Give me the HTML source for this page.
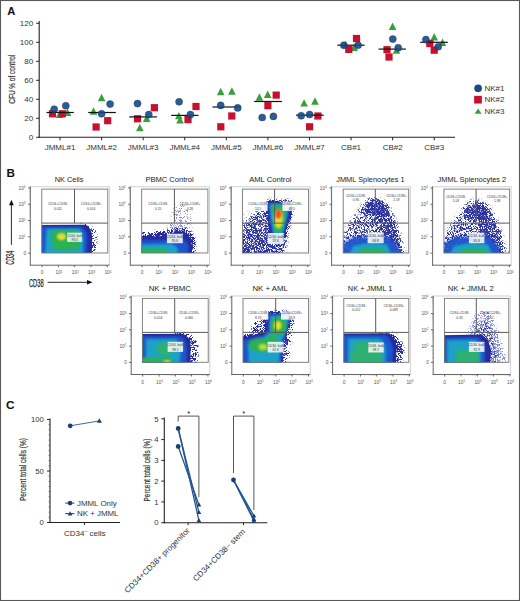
<!DOCTYPE html>
<html><head><meta charset="utf-8"><style>
html,body{margin:0;padding:0;background:#fff;}
body{width:520px;height:601px;overflow:hidden;}
svg{display:block;}
text{font-family:"Liberation Sans", sans-serif;}
</style></head><body>
<svg width="520" height="601" viewBox="0 0 520 601">
<defs>
<filter id="b05" x="-20%" y="-20%" width="140%" height="140%"><feGaussianBlur stdDeviation="0.5"/></filter>
<filter id="b1" x="-20%" y="-20%" width="140%" height="140%"><feGaussianBlur stdDeviation="1"/></filter>
<filter id="b15" x="-30%" y="-30%" width="160%" height="160%"><feGaussianBlur stdDeviation="1.5"/></filter>
<filter id="b2" x="-40%" y="-40%" width="180%" height="180%"><feGaussianBlur stdDeviation="2"/></filter>
<filter id="dA" x="-20%" y="-20%" width="140%" height="140%" color-interpolation-filters="sRGB"><feGaussianBlur in="SourceAlpha" stdDeviation="1.5" result="d"/><feTurbulence type="fractalNoise" baseFrequency="1.9" numOctaves="2" seed="5" result="n"/><feColorMatrix in="n" type="matrix" values="0 0 0 0 0  0 0 0 0 0  0 0 0 0 0  3.5 0 0 0 -1.25" result="na"/><feComposite in="d" in2="na" operator="arithmetic" k1="0" k2="1.3" k3="-1" k4="0" result="diff"/><feComponentTransfer in="diff" result="amp"><feFuncA type="linear" slope="5" intercept="0"/></feComponentTransfer><feFlood flood-color="#272c9c"/><feComposite in2="amp" operator="in"/></filter>
<filter id="dB" x="-20%" y="-20%" width="140%" height="140%" color-interpolation-filters="sRGB"><feGaussianBlur in="SourceAlpha" stdDeviation="2.5" result="d"/><feTurbulence type="fractalNoise" baseFrequency="1.3" numOctaves="2" seed="9" result="n"/><feColorMatrix in="n" type="matrix" values="0 0 0 0 0  0 0 0 0 0  0 0 0 0 0  3.5 0 0 0 -1.25" result="na"/><feComposite in="d" in2="na" operator="arithmetic" k1="0" k2="1.3" k3="-1" k4="0" result="diff"/><feComponentTransfer in="diff" result="amp"><feFuncA type="linear" slope="5" intercept="0"/></feComponentTransfer><feFlood flood-color="#272c9c"/><feComposite in2="amp" operator="in"/></filter>
<filter id="dC" x="-20%" y="-20%" width="140%" height="140%" color-interpolation-filters="sRGB"><feGaussianBlur in="SourceAlpha" stdDeviation="2.2" result="d"/><feTurbulence type="fractalNoise" baseFrequency="2.3" numOctaves="2" seed="11" result="n"/><feColorMatrix in="n" type="matrix" values="0 0 0 0 0  0 0 0 0 0  0 0 0 0 0  3.5 0 0 0 -1.25" result="na"/><feComposite in="d" in2="na" operator="arithmetic" k1="0" k2="1.3" k3="-1" k4="0" result="diff"/><feComponentTransfer in="diff" result="amp0"><feFuncA type="linear" slope="2.4" intercept="0"/></feComponentTransfer><feGaussianBlur in="amp0" stdDeviation="0.5" result="amp"/><feFlood flood-color="#2c34a2"/><feComposite in2="amp" operator="in"/></filter>
<filter id="dL" x="-20%" y="-20%" width="140%" height="140%" color-interpolation-filters="sRGB"><feGaussianBlur in="SourceAlpha" stdDeviation="2.2" result="d"/><feTurbulence type="fractalNoise" baseFrequency="2.3" numOctaves="2" seed="13" result="n"/><feColorMatrix in="n" type="matrix" values="0 0 0 0 0  0 0 0 0 0  0 0 0 0 0  3.5 0 0 0 -1.25" result="na"/><feComposite in="d" in2="na" operator="arithmetic" k1="0" k2="1.3" k3="-1" k4="0" result="diff"/><feComponentTransfer in="diff" result="amp"><feFuncA type="linear" slope="4" intercept="0"/></feComponentTransfer><feFlood flood-color="#8a93d6"/><feComposite in2="amp" operator="in"/></filter>
</defs>
<rect x="0" y="0" width="520" height="601" fill="#fff"/>
<text x="7.20" y="15.00" font-size="11.2" text-anchor="start" fill="#111" font-weight="bold" >A</text>
<line x1="39.20" y1="21.00" x2="39.20" y2="137.80" stroke="#222" stroke-width="1.1"/>
<line x1="38.70" y1="137.30" x2="455.00" y2="137.30" stroke="#222" stroke-width="1.1"/>
<line x1="36.20" y1="137.30" x2="39.20" y2="137.30" stroke="#222" stroke-width="1"/>
<text x="33.20" y="140.15" font-size="8.0" text-anchor="end" fill="#333" font-weight="normal" >0</text>
<line x1="36.20" y1="118.30" x2="39.20" y2="118.30" stroke="#222" stroke-width="1"/>
<text x="33.20" y="121.15" font-size="8.0" text-anchor="end" fill="#333" font-weight="normal" >20</text>
<line x1="36.20" y1="99.30" x2="39.20" y2="99.30" stroke="#222" stroke-width="1"/>
<text x="33.20" y="102.15" font-size="8.0" text-anchor="end" fill="#333" font-weight="normal" >40</text>
<line x1="36.20" y1="80.30" x2="39.20" y2="80.30" stroke="#222" stroke-width="1"/>
<text x="33.20" y="83.15" font-size="8.0" text-anchor="end" fill="#333" font-weight="normal" >60</text>
<line x1="36.20" y1="61.30" x2="39.20" y2="61.30" stroke="#222" stroke-width="1"/>
<text x="33.20" y="64.15" font-size="8.0" text-anchor="end" fill="#333" font-weight="normal" >80</text>
<line x1="36.20" y1="42.30" x2="39.20" y2="42.30" stroke="#222" stroke-width="1"/>
<text x="33.20" y="45.15" font-size="8.0" text-anchor="end" fill="#333" font-weight="normal" >100</text>
<line x1="36.20" y1="23.30" x2="39.20" y2="23.30" stroke="#222" stroke-width="1"/>
<text x="33.20" y="26.15" font-size="8.0" text-anchor="end" fill="#333" font-weight="normal" >120</text>
<line x1="60.00" y1="137.30" x2="60.00" y2="140.30" stroke="#222" stroke-width="1"/>
<text x="60.00" y="150.30" font-size="8.0" text-anchor="middle" fill="#333" font-weight="normal" >JMML#1</text>
<line x1="101.58" y1="137.30" x2="101.58" y2="140.30" stroke="#222" stroke-width="1"/>
<text x="101.58" y="150.30" font-size="8.0" text-anchor="middle" fill="#333" font-weight="normal" >JMML#2</text>
<line x1="143.16" y1="137.30" x2="143.16" y2="140.30" stroke="#222" stroke-width="1"/>
<text x="143.16" y="150.30" font-size="8.0" text-anchor="middle" fill="#333" font-weight="normal" >JMML#3</text>
<line x1="184.74" y1="137.30" x2="184.74" y2="140.30" stroke="#222" stroke-width="1"/>
<text x="184.74" y="150.30" font-size="8.0" text-anchor="middle" fill="#333" font-weight="normal" >JMML#4</text>
<line x1="226.32" y1="137.30" x2="226.32" y2="140.30" stroke="#222" stroke-width="1"/>
<text x="226.32" y="150.30" font-size="8.0" text-anchor="middle" fill="#333" font-weight="normal" >JMML#5</text>
<line x1="267.90" y1="137.30" x2="267.90" y2="140.30" stroke="#222" stroke-width="1"/>
<text x="267.90" y="150.30" font-size="8.0" text-anchor="middle" fill="#333" font-weight="normal" >JMML#6</text>
<line x1="309.48" y1="137.30" x2="309.48" y2="140.30" stroke="#222" stroke-width="1"/>
<text x="309.48" y="150.30" font-size="8.0" text-anchor="middle" fill="#333" font-weight="normal" >JMML#7</text>
<line x1="351.06" y1="137.30" x2="351.06" y2="140.30" stroke="#222" stroke-width="1"/>
<text x="351.06" y="150.30" font-size="8.0" text-anchor="middle" fill="#333" font-weight="normal" >CB#1</text>
<line x1="392.64" y1="137.30" x2="392.64" y2="140.30" stroke="#222" stroke-width="1"/>
<text x="392.64" y="150.30" font-size="8.0" text-anchor="middle" fill="#333" font-weight="normal" >CB#2</text>
<line x1="434.22" y1="137.30" x2="434.22" y2="140.30" stroke="#222" stroke-width="1"/>
<text x="434.22" y="150.30" font-size="8.0" text-anchor="middle" fill="#333" font-weight="normal" >CB#3</text>
<text transform="translate(14.9,79.2) rotate(-90)" font-size="9" text-anchor="middle" fill="#333" stroke="#333" stroke-width="0.2" textLength="49" lengthAdjust="spacingAndGlyphs">CFU % of control</text>
<polygon points="59.50,110.50 55.70,117.90 63.30,117.90" fill="#38a03b"/>
<polygon points="67.50,108.50 63.70,115.90 71.30,115.90" fill="#38a03b"/>
<rect x="48.90" y="110.20" width="7.2" height="7.2" fill="#c8102e"/>
<rect x="58.70" y="110.20" width="7.2" height="7.2" fill="#c8102e"/>
<line x1="46.50" y1="112.50" x2="73.80" y2="112.50" stroke="#111" stroke-width="1.2"/>
<circle cx="54.20" cy="109.20" r="3.55" fill="#174a84" fill-opacity="0.9" stroke="#0f3563" stroke-width="0.4"/>
<circle cx="65.80" cy="105.80" r="3.55" fill="#174a84" fill-opacity="0.9" stroke="#0f3563" stroke-width="0.4"/>
<polygon points="101.60,93.80 97.80,101.20 105.40,101.20" fill="#38a03b"/>
<polygon points="93.50,107.30 89.70,114.70 97.30,114.70" fill="#38a03b"/>
<rect x="104.10" y="117.10" width="7.2" height="7.2" fill="#c8102e"/>
<rect x="92.50" y="123.40" width="7.2" height="7.2" fill="#c8102e"/>
<line x1="88.20" y1="112.50" x2="115.80" y2="112.50" stroke="#111" stroke-width="1.2"/>
<circle cx="110.10" cy="104.10" r="3.55" fill="#174a84" fill-opacity="0.9" stroke="#0f3563" stroke-width="0.4"/>
<circle cx="101.60" cy="113.80" r="3.55" fill="#174a84" fill-opacity="0.9" stroke="#0f3563" stroke-width="0.4"/>
<polygon points="146.70,114.50 142.90,121.90 150.50,121.90" fill="#38a03b"/>
<polygon points="139.80,123.80 136.00,131.20 143.60,131.20" fill="#38a03b"/>
<rect x="150.80" y="104.10" width="7.2" height="7.2" fill="#c8102e"/>
<rect x="133.90" y="115.20" width="7.2" height="7.2" fill="#c8102e"/>
<line x1="129.20" y1="116.90" x2="156.90" y2="116.90" stroke="#111" stroke-width="1.2"/>
<circle cx="137.50" cy="103.60" r="3.55" fill="#174a84" fill-opacity="0.9" stroke="#0f3563" stroke-width="0.4"/>
<circle cx="148.80" cy="114.60" r="3.55" fill="#174a84" fill-opacity="0.9" stroke="#0f3563" stroke-width="0.4"/>
<polygon points="178.80,111.90 175.00,119.30 182.60,119.30" fill="#38a03b"/>
<polygon points="180.00,116.20 176.20,123.60 183.80,123.60" fill="#38a03b"/>
<rect x="192.40" y="102.90" width="7.2" height="7.2" fill="#c8102e"/>
<rect x="184.40" y="116.00" width="7.2" height="7.2" fill="#c8102e"/>
<line x1="171.20" y1="115.40" x2="198.50" y2="115.40" stroke="#111" stroke-width="1.2"/>
<circle cx="179.10" cy="101.80" r="3.55" fill="#174a84" fill-opacity="0.9" stroke="#0f3563" stroke-width="0.4"/>
<circle cx="190.40" cy="114.60" r="3.55" fill="#174a84" fill-opacity="0.9" stroke="#0f3563" stroke-width="0.4"/>
<polygon points="220.70,87.80 216.90,95.20 224.50,95.20" fill="#38a03b"/>
<polygon points="231.90,87.30 228.10,94.70 235.70,94.70" fill="#38a03b"/>
<rect x="228.20" y="112.40" width="7.2" height="7.2" fill="#c8102e"/>
<rect x="217.20" y="123.20" width="7.2" height="7.2" fill="#c8102e"/>
<line x1="212.50" y1="107.00" x2="240.90" y2="107.00" stroke="#111" stroke-width="1.2"/>
<circle cx="220.70" cy="105.40" r="3.55" fill="#174a84" fill-opacity="0.9" stroke="#0f3563" stroke-width="0.4"/>
<circle cx="237.70" cy="107.90" r="3.55" fill="#174a84" fill-opacity="0.9" stroke="#0f3563" stroke-width="0.4"/>
<polygon points="259.40,93.30 255.60,100.70 263.20,100.70" fill="#38a03b"/>
<polygon points="267.70,90.50 263.90,97.90 271.50,97.90" fill="#38a03b"/>
<rect x="272.60" y="91.50" width="7.2" height="7.2" fill="#c8102e"/>
<rect x="264.30" y="102.10" width="7.2" height="7.2" fill="#c8102e"/>
<line x1="254.00" y1="101.50" x2="281.90" y2="101.50" stroke="#111" stroke-width="1.2"/>
<circle cx="262.20" cy="117.50" r="3.55" fill="#174a84" fill-opacity="0.9" stroke="#0f3563" stroke-width="0.4"/>
<circle cx="273.40" cy="116.40" r="3.55" fill="#174a84" fill-opacity="0.9" stroke="#0f3563" stroke-width="0.4"/>
<polygon points="304.10,99.20 300.30,106.60 307.90,106.60" fill="#38a03b"/>
<polygon points="315.00,97.30 311.20,104.70 318.80,104.70" fill="#38a03b"/>
<rect x="314.30" y="112.40" width="7.2" height="7.2" fill="#c8102e"/>
<rect x="306.00" y="123.20" width="7.2" height="7.2" fill="#c8102e"/>
<line x1="296.00" y1="115.20" x2="323.70" y2="115.20" stroke="#111" stroke-width="1.2"/>
<circle cx="301.20" cy="115.80" r="3.55" fill="#174a84" fill-opacity="0.9" stroke="#0f3563" stroke-width="0.4"/>
<circle cx="309.60" cy="114.50" r="3.55" fill="#174a84" fill-opacity="0.9" stroke="#0f3563" stroke-width="0.4"/>
<polygon points="345.40,40.80 341.60,48.20 349.20,48.20" fill="#38a03b"/>
<polygon points="354.20,43.50 350.40,50.90 358.00,50.90" fill="#38a03b"/>
<rect x="352.90" y="34.90" width="7.2" height="7.2" fill="#c8102e"/>
<rect x="345.20" y="45.80" width="7.2" height="7.2" fill="#c8102e"/>
<line x1="337.30" y1="45.20" x2="364.60" y2="45.20" stroke="#111" stroke-width="1.2"/>
<circle cx="343.80" cy="45.20" r="3.55" fill="#174a84" fill-opacity="0.9" stroke="#0f3563" stroke-width="0.4"/>
<circle cx="358.10" cy="45.20" r="3.55" fill="#174a84" fill-opacity="0.9" stroke="#0f3563" stroke-width="0.4"/>
<polygon points="392.60,22.50 388.80,29.90 396.40,29.90" fill="#38a03b"/>
<polygon points="396.50,46.40 392.70,53.80 400.30,53.80" fill="#38a03b"/>
<rect x="383.40" y="46.10" width="7.2" height="7.2" fill="#c8102e"/>
<rect x="385.40" y="53.40" width="7.2" height="7.2" fill="#c8102e"/>
<line x1="378.50" y1="49.10" x2="405.90" y2="49.10" stroke="#111" stroke-width="1.2"/>
<circle cx="392.80" cy="39.10" r="3.55" fill="#174a84" fill-opacity="0.9" stroke="#0f3563" stroke-width="0.4"/>
<circle cx="398.20" cy="47.80" r="3.55" fill="#174a84" fill-opacity="0.9" stroke="#0f3563" stroke-width="0.4"/>
<polygon points="434.20,33.10 430.40,40.50 438.00,40.50" fill="#38a03b"/>
<polygon points="442.50,38.50 438.70,45.90 446.30,45.90" fill="#38a03b"/>
<rect x="426.20" y="39.90" width="7.2" height="7.2" fill="#c8102e"/>
<rect x="430.60" y="46.60" width="7.2" height="7.2" fill="#c8102e"/>
<line x1="420.20" y1="42.30" x2="447.80" y2="42.30" stroke="#111" stroke-width="1.2"/>
<circle cx="425.90" cy="39.60" r="3.55" fill="#174a84" fill-opacity="0.9" stroke="#0f3563" stroke-width="0.4"/>
<circle cx="438.20" cy="46.70" r="3.55" fill="#174a84" fill-opacity="0.9" stroke="#0f3563" stroke-width="0.4"/>
<circle cx="478.10" cy="88.30" r="3.85" fill="#174a84"/>
<text x="484.40" y="91.00" font-size="8.0" text-anchor="start" fill="#333" font-weight="normal" >NK#1</text>
<rect x="474.15" y="95.85" width="7.7" height="7.7" fill="#c8102e"/>
<text x="484.40" y="102.40" font-size="8.0" text-anchor="start" fill="#333" font-weight="normal" >NK#2</text>
<polygon points="478.10,108.50 474.60,113.80 481.60,113.80" fill="#38a03b"/>
<text x="484.40" y="113.60" font-size="8.0" text-anchor="start" fill="#333" font-weight="normal" >NK#3</text>
<text x="6.50" y="177.00" font-size="11.7" text-anchor="start" fill="#111" font-weight="bold" >B</text>
<text x="69.05" y="181.60" font-size="7.8" text-anchor="middle" fill="#222" textLength="28.80" lengthAdjust="spacingAndGlyphs">NK Cells</text>
<g><clipPath id="cp0"><rect x="41.8" y="186.7" width="67.60" height="66.40"/></clipPath><g clip-path="url(#cp0)"><g filter="url(#dA)"><path d="M76,224.5 L89,224.5 Q95,228 96,236 Q96.5,246 94.5,257 L85,257 Z" fill="#000" fill-opacity="0.42"/></g><path d="M38,224.9 L86,224.7 Q90.5,227 91.8,234 Q92.6,242 91.5,257 L38,257 Z" fill="#272c9c" filter="url(#b05)"/><path d="M38,226.8 L81,226.8 Q86,229 87,236 L86.5,257 L38,257 Z" fill="#1f56cf" filter="url(#b1)"/><path d="M46.5,228.8 L79,228.8 Q83.5,232 83.5,240 L83,257 L45,257 Z" fill="#1aa2c9" filter="url(#b1)"/><path d="M51.5,230.5 L77,230.2 Q81,235 80.5,242 L78,250 L54,250.5 Q50,240 51.5,230.5 Z" fill="#2bb153" filter="url(#b15)"/><ellipse cx="61.5" cy="236.6" rx="4.6" ry="3.6" fill="#e2dd2e" filter="url(#b1)"/></g><rect x="67.1" y="232.7" width="15.00" height="9.20" fill="#eaf6f0" fill-opacity="0.88"/></g>
<line x1="30.30" y1="186.70" x2="109.40" y2="186.70" stroke="#bdbdbd" stroke-width="0.7"/>
<line x1="109.40" y1="186.70" x2="109.40" y2="265.20" stroke="#bdbdbd" stroke-width="0.7"/>
<line x1="30.30" y1="186.40" x2="30.30" y2="265.60" stroke="#555" stroke-width="0.9"/>
<line x1="29.90" y1="265.20" x2="109.40" y2="265.20" stroke="#555" stroke-width="0.9"/>
<rect x="41.80" y="189.10" width="66.00" height="63.90" fill="none" stroke="#747474" stroke-width="0.9"/>
<line x1="41.80" y1="223.10" x2="107.80" y2="223.10" stroke="#5a5a5a" stroke-width="1.0"/>
<line x1="74.50" y1="189.10" x2="74.50" y2="223.10" stroke="#5a5a5a" stroke-width="1.0"/>
<line x1="28.10" y1="253.10" x2="30.30" y2="253.10" stroke="#555" stroke-width="0.9"/>
<line x1="28.10" y1="236.80" x2="30.30" y2="236.80" stroke="#555" stroke-width="0.9"/>
<line x1="28.10" y1="220.50" x2="30.30" y2="220.50" stroke="#555" stroke-width="0.9"/>
<line x1="28.10" y1="204.20" x2="30.30" y2="204.20" stroke="#555" stroke-width="0.9"/>
<line x1="28.10" y1="187.90" x2="30.30" y2="187.90" stroke="#555" stroke-width="0.9"/>
<line x1="29.20" y1="231.89" x2="30.30" y2="231.89" stroke="#8a8a8a" stroke-width="0.45"/>
<line x1="29.20" y1="229.02" x2="30.30" y2="229.02" stroke="#8a8a8a" stroke-width="0.45"/>
<line x1="29.20" y1="226.99" x2="30.30" y2="226.99" stroke="#8a8a8a" stroke-width="0.45"/>
<line x1="29.20" y1="225.41" x2="30.30" y2="225.41" stroke="#8a8a8a" stroke-width="0.45"/>
<line x1="29.20" y1="224.12" x2="30.30" y2="224.12" stroke="#8a8a8a" stroke-width="0.45"/>
<line x1="29.20" y1="223.02" x2="30.30" y2="223.02" stroke="#8a8a8a" stroke-width="0.45"/>
<line x1="29.20" y1="222.08" x2="30.30" y2="222.08" stroke="#8a8a8a" stroke-width="0.45"/>
<line x1="29.20" y1="221.25" x2="30.30" y2="221.25" stroke="#8a8a8a" stroke-width="0.45"/>
<line x1="29.20" y1="215.59" x2="30.30" y2="215.59" stroke="#8a8a8a" stroke-width="0.45"/>
<line x1="29.20" y1="212.72" x2="30.30" y2="212.72" stroke="#8a8a8a" stroke-width="0.45"/>
<line x1="29.20" y1="210.69" x2="30.30" y2="210.69" stroke="#8a8a8a" stroke-width="0.45"/>
<line x1="29.20" y1="209.11" x2="30.30" y2="209.11" stroke="#8a8a8a" stroke-width="0.45"/>
<line x1="29.20" y1="207.82" x2="30.30" y2="207.82" stroke="#8a8a8a" stroke-width="0.45"/>
<line x1="29.20" y1="206.72" x2="30.30" y2="206.72" stroke="#8a8a8a" stroke-width="0.45"/>
<line x1="29.20" y1="205.78" x2="30.30" y2="205.78" stroke="#8a8a8a" stroke-width="0.45"/>
<line x1="29.20" y1="204.95" x2="30.30" y2="204.95" stroke="#8a8a8a" stroke-width="0.45"/>
<line x1="29.20" y1="199.29" x2="30.30" y2="199.29" stroke="#8a8a8a" stroke-width="0.45"/>
<line x1="29.20" y1="196.42" x2="30.30" y2="196.42" stroke="#8a8a8a" stroke-width="0.45"/>
<line x1="29.20" y1="194.39" x2="30.30" y2="194.39" stroke="#8a8a8a" stroke-width="0.45"/>
<line x1="29.20" y1="192.81" x2="30.30" y2="192.81" stroke="#8a8a8a" stroke-width="0.45"/>
<line x1="29.20" y1="191.52" x2="30.30" y2="191.52" stroke="#8a8a8a" stroke-width="0.45"/>
<line x1="29.20" y1="190.42" x2="30.30" y2="190.42" stroke="#8a8a8a" stroke-width="0.45"/>
<line x1="29.20" y1="189.48" x2="30.30" y2="189.48" stroke="#8a8a8a" stroke-width="0.45"/>
<line x1="29.20" y1="188.65" x2="30.30" y2="188.65" stroke="#8a8a8a" stroke-width="0.45"/>
<line x1="29.20" y1="248.21" x2="30.30" y2="248.21" stroke="#8a8a8a" stroke-width="0.45"/>
<line x1="29.20" y1="244.13" x2="30.30" y2="244.13" stroke="#8a8a8a" stroke-width="0.45"/>
<line x1="29.20" y1="240.88" x2="30.30" y2="240.88" stroke="#8a8a8a" stroke-width="0.45"/>
<text x="26.10" y="254.80" font-size="4.8" text-anchor="end" fill="#555" font-weight="normal" >0</text>
<text x="25.50" y="238.60" font-size="4.8" text-anchor="end" fill="#555" font-weight="normal" >10<tspan font-size="3.0" dy="-1.7">1</tspan></text>
<text x="25.50" y="222.30" font-size="4.8" text-anchor="end" fill="#555" font-weight="normal" >10<tspan font-size="3.0" dy="-1.7">2</tspan></text>
<text x="25.50" y="206.00" font-size="4.8" text-anchor="end" fill="#555" font-weight="normal" >10<tspan font-size="3.0" dy="-1.7">3</tspan></text>
<text x="25.50" y="189.70" font-size="4.8" text-anchor="end" fill="#555" font-weight="normal" >10<tspan font-size="3.0" dy="-1.7">4</tspan></text>
<line x1="42.10" y1="265.20" x2="42.10" y2="267.20" stroke="#555" stroke-width="0.9"/>
<line x1="58.40" y1="265.20" x2="58.40" y2="267.20" stroke="#555" stroke-width="0.9"/>
<line x1="74.70" y1="265.20" x2="74.70" y2="267.20" stroke="#555" stroke-width="0.9"/>
<line x1="91.00" y1="265.20" x2="91.00" y2="267.20" stroke="#555" stroke-width="0.9"/>
<line x1="107.30" y1="265.20" x2="107.30" y2="267.20" stroke="#555" stroke-width="0.9"/>
<line x1="63.31" y1="265.20" x2="63.31" y2="266.30" stroke="#8a8a8a" stroke-width="0.45"/>
<line x1="66.18" y1="265.20" x2="66.18" y2="266.30" stroke="#8a8a8a" stroke-width="0.45"/>
<line x1="68.21" y1="265.20" x2="68.21" y2="266.30" stroke="#8a8a8a" stroke-width="0.45"/>
<line x1="69.79" y1="265.20" x2="69.79" y2="266.30" stroke="#8a8a8a" stroke-width="0.45"/>
<line x1="71.08" y1="265.20" x2="71.08" y2="266.30" stroke="#8a8a8a" stroke-width="0.45"/>
<line x1="72.18" y1="265.20" x2="72.18" y2="266.30" stroke="#8a8a8a" stroke-width="0.45"/>
<line x1="73.12" y1="265.20" x2="73.12" y2="266.30" stroke="#8a8a8a" stroke-width="0.45"/>
<line x1="73.95" y1="265.20" x2="73.95" y2="266.30" stroke="#8a8a8a" stroke-width="0.45"/>
<line x1="79.61" y1="265.20" x2="79.61" y2="266.30" stroke="#8a8a8a" stroke-width="0.45"/>
<line x1="82.48" y1="265.20" x2="82.48" y2="266.30" stroke="#8a8a8a" stroke-width="0.45"/>
<line x1="84.51" y1="265.20" x2="84.51" y2="266.30" stroke="#8a8a8a" stroke-width="0.45"/>
<line x1="86.09" y1="265.20" x2="86.09" y2="266.30" stroke="#8a8a8a" stroke-width="0.45"/>
<line x1="87.38" y1="265.20" x2="87.38" y2="266.30" stroke="#8a8a8a" stroke-width="0.45"/>
<line x1="88.48" y1="265.20" x2="88.48" y2="266.30" stroke="#8a8a8a" stroke-width="0.45"/>
<line x1="89.42" y1="265.20" x2="89.42" y2="266.30" stroke="#8a8a8a" stroke-width="0.45"/>
<line x1="90.25" y1="265.20" x2="90.25" y2="266.30" stroke="#8a8a8a" stroke-width="0.45"/>
<line x1="95.91" y1="265.20" x2="95.91" y2="266.30" stroke="#8a8a8a" stroke-width="0.45"/>
<line x1="98.78" y1="265.20" x2="98.78" y2="266.30" stroke="#8a8a8a" stroke-width="0.45"/>
<line x1="100.81" y1="265.20" x2="100.81" y2="266.30" stroke="#8a8a8a" stroke-width="0.45"/>
<line x1="102.39" y1="265.20" x2="102.39" y2="266.30" stroke="#8a8a8a" stroke-width="0.45"/>
<line x1="103.68" y1="265.20" x2="103.68" y2="266.30" stroke="#8a8a8a" stroke-width="0.45"/>
<line x1="104.78" y1="265.20" x2="104.78" y2="266.30" stroke="#8a8a8a" stroke-width="0.45"/>
<line x1="105.72" y1="265.20" x2="105.72" y2="266.30" stroke="#8a8a8a" stroke-width="0.45"/>
<line x1="106.55" y1="265.20" x2="106.55" y2="266.30" stroke="#8a8a8a" stroke-width="0.45"/>
<line x1="46.99" y1="265.20" x2="46.99" y2="266.30" stroke="#8a8a8a" stroke-width="0.45"/>
<line x1="51.06" y1="265.20" x2="51.06" y2="266.30" stroke="#8a8a8a" stroke-width="0.45"/>
<line x1="54.32" y1="265.20" x2="54.32" y2="266.30" stroke="#8a8a8a" stroke-width="0.45"/>
<text x="42.10" y="274.20" font-size="4.8" text-anchor="middle" fill="#555" font-weight="normal" >0</text>
<text x="59.00" y="274.20" font-size="4.8" text-anchor="middle" fill="#555" font-weight="normal" >10<tspan font-size="3.0" dy="-1.7">1</tspan></text>
<text x="75.30" y="274.20" font-size="4.8" text-anchor="middle" fill="#555" font-weight="normal" >10<tspan font-size="3.0" dy="-1.7">2</tspan></text>
<text x="91.60" y="274.20" font-size="4.8" text-anchor="middle" fill="#555" font-weight="normal" >10<tspan font-size="3.0" dy="-1.7">3</tspan></text>
<text x="107.90" y="274.20" font-size="4.8" text-anchor="middle" fill="#555" font-weight="normal" >10<tspan font-size="3.0" dy="-1.7">4</tspan></text>
<text x="57.90" y="205.00" font-size="3.3" text-anchor="middle" fill="#3a3a3a" font-weight="normal" >CD34+CD38-</text>
<text x="57.90" y="209.50" font-size="3.3" text-anchor="middle" fill="#3a3a3a" font-weight="normal" >0.011</text>
<text x="91.20" y="205.00" font-size="3.3" text-anchor="middle" fill="#3a3a3a" font-weight="normal" >CD34+CD38+</text>
<text x="91.20" y="209.50" font-size="3.3" text-anchor="middle" fill="#3a3a3a" font-weight="normal" >0.014</text>
<text x="74.60" y="236.70" font-size="3.3" text-anchor="middle" fill="#3a3a3a" font-weight="normal" >CD34- bulk</text>
<text x="74.60" y="241.20" font-size="3.3" text-anchor="middle" fill="#3a3a3a" font-weight="normal" >93.5</text>
<text x="169.60" y="181.60" font-size="7.8" text-anchor="middle" fill="#222" textLength="48.30" lengthAdjust="spacingAndGlyphs">PBMC Control</text>
<g><clipPath id="cp1"><rect x="141.7" y="186.7" width="67.80" height="66.40"/></clipPath><g clip-path="url(#cp1)"><g filter="url(#dL)"><path d="M166,236 L170,222 L175,207 L183,203 L190,211 L190,226 L193,236 Z" fill="#000" fill-opacity="0.3"/></g><g filter="url(#dA)"><path d="M138,236.5 L160,235.5 L176,232 L186,233 L191,238 L192.5,246 L192,257 L138,257 Z" fill="#000"/><path d="M138,233.5 L165,231 L178,228 L188,229 L194,237 L195,257 L138,257 Z" fill="#000" fill-opacity="0.55"/></g><path d="M138,240.5 L184,240 L188.5,245 L188,257 L138,257 Z" fill="#1f56cf" filter="url(#b1)"/><path d="M138,244.5 L172,244 L178,248 L177,257 L138,257 Z" fill="#1aa2c9" filter="url(#b1)"/><path d="M138,248.5 L166,248.5 L169,257 L138,257 Z" fill="#2bb153" filter="url(#b1)"/></g><rect x="166.9" y="233.8" width="15.90" height="9.40" fill="#f2f8fb" fill-opacity="0.9"/></g>
<line x1="130.30" y1="186.70" x2="209.50" y2="186.70" stroke="#bdbdbd" stroke-width="0.7"/>
<line x1="209.50" y1="186.70" x2="209.50" y2="265.20" stroke="#bdbdbd" stroke-width="0.7"/>
<line x1="130.30" y1="186.40" x2="130.30" y2="265.60" stroke="#555" stroke-width="0.9"/>
<line x1="129.90" y1="265.20" x2="209.50" y2="265.20" stroke="#555" stroke-width="0.9"/>
<rect x="141.70" y="189.10" width="66.20" height="63.90" fill="none" stroke="#747474" stroke-width="0.9"/>
<line x1="141.70" y1="223.10" x2="207.90" y2="223.10" stroke="#5a5a5a" stroke-width="1.0"/>
<line x1="174.40" y1="189.10" x2="174.40" y2="223.10" stroke="#5a5a5a" stroke-width="1.0"/>
<line x1="128.10" y1="253.10" x2="130.30" y2="253.10" stroke="#555" stroke-width="0.9"/>
<line x1="128.10" y1="236.80" x2="130.30" y2="236.80" stroke="#555" stroke-width="0.9"/>
<line x1="128.10" y1="220.50" x2="130.30" y2="220.50" stroke="#555" stroke-width="0.9"/>
<line x1="128.10" y1="204.20" x2="130.30" y2="204.20" stroke="#555" stroke-width="0.9"/>
<line x1="128.10" y1="187.90" x2="130.30" y2="187.90" stroke="#555" stroke-width="0.9"/>
<line x1="129.20" y1="231.89" x2="130.30" y2="231.89" stroke="#8a8a8a" stroke-width="0.45"/>
<line x1="129.20" y1="229.02" x2="130.30" y2="229.02" stroke="#8a8a8a" stroke-width="0.45"/>
<line x1="129.20" y1="226.99" x2="130.30" y2="226.99" stroke="#8a8a8a" stroke-width="0.45"/>
<line x1="129.20" y1="225.41" x2="130.30" y2="225.41" stroke="#8a8a8a" stroke-width="0.45"/>
<line x1="129.20" y1="224.12" x2="130.30" y2="224.12" stroke="#8a8a8a" stroke-width="0.45"/>
<line x1="129.20" y1="223.02" x2="130.30" y2="223.02" stroke="#8a8a8a" stroke-width="0.45"/>
<line x1="129.20" y1="222.08" x2="130.30" y2="222.08" stroke="#8a8a8a" stroke-width="0.45"/>
<line x1="129.20" y1="221.25" x2="130.30" y2="221.25" stroke="#8a8a8a" stroke-width="0.45"/>
<line x1="129.20" y1="215.59" x2="130.30" y2="215.59" stroke="#8a8a8a" stroke-width="0.45"/>
<line x1="129.20" y1="212.72" x2="130.30" y2="212.72" stroke="#8a8a8a" stroke-width="0.45"/>
<line x1="129.20" y1="210.69" x2="130.30" y2="210.69" stroke="#8a8a8a" stroke-width="0.45"/>
<line x1="129.20" y1="209.11" x2="130.30" y2="209.11" stroke="#8a8a8a" stroke-width="0.45"/>
<line x1="129.20" y1="207.82" x2="130.30" y2="207.82" stroke="#8a8a8a" stroke-width="0.45"/>
<line x1="129.20" y1="206.72" x2="130.30" y2="206.72" stroke="#8a8a8a" stroke-width="0.45"/>
<line x1="129.20" y1="205.78" x2="130.30" y2="205.78" stroke="#8a8a8a" stroke-width="0.45"/>
<line x1="129.20" y1="204.95" x2="130.30" y2="204.95" stroke="#8a8a8a" stroke-width="0.45"/>
<line x1="129.20" y1="199.29" x2="130.30" y2="199.29" stroke="#8a8a8a" stroke-width="0.45"/>
<line x1="129.20" y1="196.42" x2="130.30" y2="196.42" stroke="#8a8a8a" stroke-width="0.45"/>
<line x1="129.20" y1="194.39" x2="130.30" y2="194.39" stroke="#8a8a8a" stroke-width="0.45"/>
<line x1="129.20" y1="192.81" x2="130.30" y2="192.81" stroke="#8a8a8a" stroke-width="0.45"/>
<line x1="129.20" y1="191.52" x2="130.30" y2="191.52" stroke="#8a8a8a" stroke-width="0.45"/>
<line x1="129.20" y1="190.42" x2="130.30" y2="190.42" stroke="#8a8a8a" stroke-width="0.45"/>
<line x1="129.20" y1="189.48" x2="130.30" y2="189.48" stroke="#8a8a8a" stroke-width="0.45"/>
<line x1="129.20" y1="188.65" x2="130.30" y2="188.65" stroke="#8a8a8a" stroke-width="0.45"/>
<line x1="129.20" y1="248.21" x2="130.30" y2="248.21" stroke="#8a8a8a" stroke-width="0.45"/>
<line x1="129.20" y1="244.13" x2="130.30" y2="244.13" stroke="#8a8a8a" stroke-width="0.45"/>
<line x1="129.20" y1="240.88" x2="130.30" y2="240.88" stroke="#8a8a8a" stroke-width="0.45"/>
<text x="126.10" y="254.80" font-size="4.8" text-anchor="end" fill="#555" font-weight="normal" >0</text>
<text x="125.50" y="238.60" font-size="4.8" text-anchor="end" fill="#555" font-weight="normal" >10<tspan font-size="3.0" dy="-1.7">1</tspan></text>
<text x="125.50" y="222.30" font-size="4.8" text-anchor="end" fill="#555" font-weight="normal" >10<tspan font-size="3.0" dy="-1.7">2</tspan></text>
<text x="125.50" y="206.00" font-size="4.8" text-anchor="end" fill="#555" font-weight="normal" >10<tspan font-size="3.0" dy="-1.7">3</tspan></text>
<text x="125.50" y="189.70" font-size="4.8" text-anchor="end" fill="#555" font-weight="normal" >10<tspan font-size="3.0" dy="-1.7">4</tspan></text>
<line x1="142.00" y1="265.20" x2="142.00" y2="267.20" stroke="#555" stroke-width="0.9"/>
<line x1="158.30" y1="265.20" x2="158.30" y2="267.20" stroke="#555" stroke-width="0.9"/>
<line x1="174.60" y1="265.20" x2="174.60" y2="267.20" stroke="#555" stroke-width="0.9"/>
<line x1="190.90" y1="265.20" x2="190.90" y2="267.20" stroke="#555" stroke-width="0.9"/>
<line x1="207.20" y1="265.20" x2="207.20" y2="267.20" stroke="#555" stroke-width="0.9"/>
<line x1="163.21" y1="265.20" x2="163.21" y2="266.30" stroke="#8a8a8a" stroke-width="0.45"/>
<line x1="166.08" y1="265.20" x2="166.08" y2="266.30" stroke="#8a8a8a" stroke-width="0.45"/>
<line x1="168.11" y1="265.20" x2="168.11" y2="266.30" stroke="#8a8a8a" stroke-width="0.45"/>
<line x1="169.69" y1="265.20" x2="169.69" y2="266.30" stroke="#8a8a8a" stroke-width="0.45"/>
<line x1="170.98" y1="265.20" x2="170.98" y2="266.30" stroke="#8a8a8a" stroke-width="0.45"/>
<line x1="172.08" y1="265.20" x2="172.08" y2="266.30" stroke="#8a8a8a" stroke-width="0.45"/>
<line x1="173.02" y1="265.20" x2="173.02" y2="266.30" stroke="#8a8a8a" stroke-width="0.45"/>
<line x1="173.85" y1="265.20" x2="173.85" y2="266.30" stroke="#8a8a8a" stroke-width="0.45"/>
<line x1="179.51" y1="265.20" x2="179.51" y2="266.30" stroke="#8a8a8a" stroke-width="0.45"/>
<line x1="182.38" y1="265.20" x2="182.38" y2="266.30" stroke="#8a8a8a" stroke-width="0.45"/>
<line x1="184.41" y1="265.20" x2="184.41" y2="266.30" stroke="#8a8a8a" stroke-width="0.45"/>
<line x1="185.99" y1="265.20" x2="185.99" y2="266.30" stroke="#8a8a8a" stroke-width="0.45"/>
<line x1="187.28" y1="265.20" x2="187.28" y2="266.30" stroke="#8a8a8a" stroke-width="0.45"/>
<line x1="188.38" y1="265.20" x2="188.38" y2="266.30" stroke="#8a8a8a" stroke-width="0.45"/>
<line x1="189.32" y1="265.20" x2="189.32" y2="266.30" stroke="#8a8a8a" stroke-width="0.45"/>
<line x1="190.15" y1="265.20" x2="190.15" y2="266.30" stroke="#8a8a8a" stroke-width="0.45"/>
<line x1="195.81" y1="265.20" x2="195.81" y2="266.30" stroke="#8a8a8a" stroke-width="0.45"/>
<line x1="198.68" y1="265.20" x2="198.68" y2="266.30" stroke="#8a8a8a" stroke-width="0.45"/>
<line x1="200.71" y1="265.20" x2="200.71" y2="266.30" stroke="#8a8a8a" stroke-width="0.45"/>
<line x1="202.29" y1="265.20" x2="202.29" y2="266.30" stroke="#8a8a8a" stroke-width="0.45"/>
<line x1="203.58" y1="265.20" x2="203.58" y2="266.30" stroke="#8a8a8a" stroke-width="0.45"/>
<line x1="204.68" y1="265.20" x2="204.68" y2="266.30" stroke="#8a8a8a" stroke-width="0.45"/>
<line x1="205.62" y1="265.20" x2="205.62" y2="266.30" stroke="#8a8a8a" stroke-width="0.45"/>
<line x1="206.45" y1="265.20" x2="206.45" y2="266.30" stroke="#8a8a8a" stroke-width="0.45"/>
<line x1="146.89" y1="265.20" x2="146.89" y2="266.30" stroke="#8a8a8a" stroke-width="0.45"/>
<line x1="150.97" y1="265.20" x2="150.97" y2="266.30" stroke="#8a8a8a" stroke-width="0.45"/>
<line x1="154.22" y1="265.20" x2="154.22" y2="266.30" stroke="#8a8a8a" stroke-width="0.45"/>
<text x="142.00" y="274.20" font-size="4.8" text-anchor="middle" fill="#555" font-weight="normal" >0</text>
<text x="158.90" y="274.20" font-size="4.8" text-anchor="middle" fill="#555" font-weight="normal" >10<tspan font-size="3.0" dy="-1.7">1</tspan></text>
<text x="175.20" y="274.20" font-size="4.8" text-anchor="middle" fill="#555" font-weight="normal" >10<tspan font-size="3.0" dy="-1.7">2</tspan></text>
<text x="191.50" y="274.20" font-size="4.8" text-anchor="middle" fill="#555" font-weight="normal" >10<tspan font-size="3.0" dy="-1.7">3</tspan></text>
<text x="207.80" y="274.20" font-size="4.8" text-anchor="middle" fill="#555" font-weight="normal" >10<tspan font-size="3.0" dy="-1.7">4</tspan></text>
<text x="158.20" y="205.10" font-size="3.3" text-anchor="middle" fill="#3a3a3a" font-weight="normal" >CD34+CD38-</text>
<text x="158.20" y="209.60" font-size="3.3" text-anchor="middle" fill="#3a3a3a" font-weight="normal" >0.15</text>
<text x="190.00" y="205.10" font-size="3.3" text-anchor="middle" fill="#3a3a3a" font-weight="normal" >CD34+CD38+</text>
<text x="190.00" y="209.60" font-size="3.3" text-anchor="middle" fill="#3a3a3a" font-weight="normal" >0.26</text>
<text x="174.85" y="237.90" font-size="3.3" text-anchor="middle" fill="#3a3a3a" font-weight="normal" >CD34- bulk</text>
<text x="174.85" y="242.40" font-size="3.3" text-anchor="middle" fill="#3a3a3a" font-weight="normal" >95.6</text>
<text x="270.25" y="181.60" font-size="7.8" text-anchor="middle" fill="#222" textLength="42.20" lengthAdjust="spacingAndGlyphs">AML Control</text>
<g><clipPath id="cp2"><rect x="242.4" y="186.7" width="67.80" height="66.40"/></clipPath><g clip-path="url(#cp2)"><g filter="url(#dC)"><path d="M238,257 L238,230 L248,220 L257,213 L264,206 L270,200 L292,200 L293,210 L289,226 L286,240 L284,257 Z" fill="#000" fill-opacity="0.6"/><path d="M238,257 L238,236 L255,232 L268,234 L279,244 L282,257 Z" fill="#000" fill-opacity="0.3"/><path d="M244,214 L254,206 L262,203 L266,212 L256,222 L246,226 Z" fill="#000" fill-opacity="0.15"/></g><g filter="url(#dA)"><path d="M266.8,201.2 L291.8,201.2 L291.5,212 L288,225 L284,241 L272,241 L268,225 Z" fill="#000"/></g><path d="M268.5,203 L290,203 L288,215 L284,235 L273,237 L270,220 Z" fill="#1f56cf" filter="url(#b1)"/><path d="M270,204 L289,204 L286,220 L282,235 L274,235 L271,218 Z" fill="#1aa2c9" filter="url(#b1)"/><path d="M271.5,205.5 L287,205.5 L284,222 L281,233 L275,233 L273,218 Z" fill="#2bb153" filter="url(#b1)"/><ellipse cx="278.5" cy="219" rx="4.6" ry="9.5" fill="#e2dd2e" filter="url(#b1)"/><ellipse cx="278.4" cy="214.0" rx="3.0" ry="4.6" fill="#e9502a" filter="url(#b1)"/></g><rect x="248" y="201.5" width="19.60" height="9.40" fill="#ffffff" fill-opacity="0.9"/><rect x="282.4" y="201.5" width="19.50" height="9.40" fill="#ffffff" fill-opacity="0.9"/><rect x="267.6" y="233" width="16.10" height="10.90" fill="#f2f8fb" fill-opacity="0.9"/></g>
<line x1="231.20" y1="186.70" x2="310.20" y2="186.70" stroke="#bdbdbd" stroke-width="0.7"/>
<line x1="310.20" y1="186.70" x2="310.20" y2="265.20" stroke="#bdbdbd" stroke-width="0.7"/>
<line x1="231.20" y1="186.40" x2="231.20" y2="265.60" stroke="#555" stroke-width="0.9"/>
<line x1="230.80" y1="265.20" x2="310.20" y2="265.20" stroke="#555" stroke-width="0.9"/>
<rect x="242.40" y="189.10" width="66.20" height="63.90" fill="none" stroke="#747474" stroke-width="0.9"/>
<line x1="242.40" y1="223.10" x2="308.60" y2="223.10" stroke="#5a5a5a" stroke-width="1.0"/>
<line x1="274.60" y1="189.10" x2="274.60" y2="223.10" stroke="#5a5a5a" stroke-width="1.0"/>
<line x1="229.00" y1="253.10" x2="231.20" y2="253.10" stroke="#555" stroke-width="0.9"/>
<line x1="229.00" y1="236.80" x2="231.20" y2="236.80" stroke="#555" stroke-width="0.9"/>
<line x1="229.00" y1="220.50" x2="231.20" y2="220.50" stroke="#555" stroke-width="0.9"/>
<line x1="229.00" y1="204.20" x2="231.20" y2="204.20" stroke="#555" stroke-width="0.9"/>
<line x1="229.00" y1="187.90" x2="231.20" y2="187.90" stroke="#555" stroke-width="0.9"/>
<line x1="230.10" y1="231.89" x2="231.20" y2="231.89" stroke="#8a8a8a" stroke-width="0.45"/>
<line x1="230.10" y1="229.02" x2="231.20" y2="229.02" stroke="#8a8a8a" stroke-width="0.45"/>
<line x1="230.10" y1="226.99" x2="231.20" y2="226.99" stroke="#8a8a8a" stroke-width="0.45"/>
<line x1="230.10" y1="225.41" x2="231.20" y2="225.41" stroke="#8a8a8a" stroke-width="0.45"/>
<line x1="230.10" y1="224.12" x2="231.20" y2="224.12" stroke="#8a8a8a" stroke-width="0.45"/>
<line x1="230.10" y1="223.02" x2="231.20" y2="223.02" stroke="#8a8a8a" stroke-width="0.45"/>
<line x1="230.10" y1="222.08" x2="231.20" y2="222.08" stroke="#8a8a8a" stroke-width="0.45"/>
<line x1="230.10" y1="221.25" x2="231.20" y2="221.25" stroke="#8a8a8a" stroke-width="0.45"/>
<line x1="230.10" y1="215.59" x2="231.20" y2="215.59" stroke="#8a8a8a" stroke-width="0.45"/>
<line x1="230.10" y1="212.72" x2="231.20" y2="212.72" stroke="#8a8a8a" stroke-width="0.45"/>
<line x1="230.10" y1="210.69" x2="231.20" y2="210.69" stroke="#8a8a8a" stroke-width="0.45"/>
<line x1="230.10" y1="209.11" x2="231.20" y2="209.11" stroke="#8a8a8a" stroke-width="0.45"/>
<line x1="230.10" y1="207.82" x2="231.20" y2="207.82" stroke="#8a8a8a" stroke-width="0.45"/>
<line x1="230.10" y1="206.72" x2="231.20" y2="206.72" stroke="#8a8a8a" stroke-width="0.45"/>
<line x1="230.10" y1="205.78" x2="231.20" y2="205.78" stroke="#8a8a8a" stroke-width="0.45"/>
<line x1="230.10" y1="204.95" x2="231.20" y2="204.95" stroke="#8a8a8a" stroke-width="0.45"/>
<line x1="230.10" y1="199.29" x2="231.20" y2="199.29" stroke="#8a8a8a" stroke-width="0.45"/>
<line x1="230.10" y1="196.42" x2="231.20" y2="196.42" stroke="#8a8a8a" stroke-width="0.45"/>
<line x1="230.10" y1="194.39" x2="231.20" y2="194.39" stroke="#8a8a8a" stroke-width="0.45"/>
<line x1="230.10" y1="192.81" x2="231.20" y2="192.81" stroke="#8a8a8a" stroke-width="0.45"/>
<line x1="230.10" y1="191.52" x2="231.20" y2="191.52" stroke="#8a8a8a" stroke-width="0.45"/>
<line x1="230.10" y1="190.42" x2="231.20" y2="190.42" stroke="#8a8a8a" stroke-width="0.45"/>
<line x1="230.10" y1="189.48" x2="231.20" y2="189.48" stroke="#8a8a8a" stroke-width="0.45"/>
<line x1="230.10" y1="188.65" x2="231.20" y2="188.65" stroke="#8a8a8a" stroke-width="0.45"/>
<line x1="230.10" y1="248.21" x2="231.20" y2="248.21" stroke="#8a8a8a" stroke-width="0.45"/>
<line x1="230.10" y1="244.13" x2="231.20" y2="244.13" stroke="#8a8a8a" stroke-width="0.45"/>
<line x1="230.10" y1="240.88" x2="231.20" y2="240.88" stroke="#8a8a8a" stroke-width="0.45"/>
<text x="227.00" y="254.80" font-size="4.8" text-anchor="end" fill="#555" font-weight="normal" >0</text>
<text x="226.40" y="238.60" font-size="4.8" text-anchor="end" fill="#555" font-weight="normal" >10<tspan font-size="3.0" dy="-1.7">1</tspan></text>
<text x="226.40" y="222.30" font-size="4.8" text-anchor="end" fill="#555" font-weight="normal" >10<tspan font-size="3.0" dy="-1.7">2</tspan></text>
<text x="226.40" y="206.00" font-size="4.8" text-anchor="end" fill="#555" font-weight="normal" >10<tspan font-size="3.0" dy="-1.7">3</tspan></text>
<text x="226.40" y="189.70" font-size="4.8" text-anchor="end" fill="#555" font-weight="normal" >10<tspan font-size="3.0" dy="-1.7">4</tspan></text>
<line x1="242.70" y1="265.20" x2="242.70" y2="267.20" stroke="#555" stroke-width="0.9"/>
<line x1="259.00" y1="265.20" x2="259.00" y2="267.20" stroke="#555" stroke-width="0.9"/>
<line x1="275.30" y1="265.20" x2="275.30" y2="267.20" stroke="#555" stroke-width="0.9"/>
<line x1="291.60" y1="265.20" x2="291.60" y2="267.20" stroke="#555" stroke-width="0.9"/>
<line x1="307.90" y1="265.20" x2="307.90" y2="267.20" stroke="#555" stroke-width="0.9"/>
<line x1="263.91" y1="265.20" x2="263.91" y2="266.30" stroke="#8a8a8a" stroke-width="0.45"/>
<line x1="266.78" y1="265.20" x2="266.78" y2="266.30" stroke="#8a8a8a" stroke-width="0.45"/>
<line x1="268.81" y1="265.20" x2="268.81" y2="266.30" stroke="#8a8a8a" stroke-width="0.45"/>
<line x1="270.39" y1="265.20" x2="270.39" y2="266.30" stroke="#8a8a8a" stroke-width="0.45"/>
<line x1="271.68" y1="265.20" x2="271.68" y2="266.30" stroke="#8a8a8a" stroke-width="0.45"/>
<line x1="272.78" y1="265.20" x2="272.78" y2="266.30" stroke="#8a8a8a" stroke-width="0.45"/>
<line x1="273.72" y1="265.20" x2="273.72" y2="266.30" stroke="#8a8a8a" stroke-width="0.45"/>
<line x1="274.55" y1="265.20" x2="274.55" y2="266.30" stroke="#8a8a8a" stroke-width="0.45"/>
<line x1="280.21" y1="265.20" x2="280.21" y2="266.30" stroke="#8a8a8a" stroke-width="0.45"/>
<line x1="283.08" y1="265.20" x2="283.08" y2="266.30" stroke="#8a8a8a" stroke-width="0.45"/>
<line x1="285.11" y1="265.20" x2="285.11" y2="266.30" stroke="#8a8a8a" stroke-width="0.45"/>
<line x1="286.69" y1="265.20" x2="286.69" y2="266.30" stroke="#8a8a8a" stroke-width="0.45"/>
<line x1="287.98" y1="265.20" x2="287.98" y2="266.30" stroke="#8a8a8a" stroke-width="0.45"/>
<line x1="289.08" y1="265.20" x2="289.08" y2="266.30" stroke="#8a8a8a" stroke-width="0.45"/>
<line x1="290.02" y1="265.20" x2="290.02" y2="266.30" stroke="#8a8a8a" stroke-width="0.45"/>
<line x1="290.85" y1="265.20" x2="290.85" y2="266.30" stroke="#8a8a8a" stroke-width="0.45"/>
<line x1="296.51" y1="265.20" x2="296.51" y2="266.30" stroke="#8a8a8a" stroke-width="0.45"/>
<line x1="299.38" y1="265.20" x2="299.38" y2="266.30" stroke="#8a8a8a" stroke-width="0.45"/>
<line x1="301.41" y1="265.20" x2="301.41" y2="266.30" stroke="#8a8a8a" stroke-width="0.45"/>
<line x1="302.99" y1="265.20" x2="302.99" y2="266.30" stroke="#8a8a8a" stroke-width="0.45"/>
<line x1="304.28" y1="265.20" x2="304.28" y2="266.30" stroke="#8a8a8a" stroke-width="0.45"/>
<line x1="305.38" y1="265.20" x2="305.38" y2="266.30" stroke="#8a8a8a" stroke-width="0.45"/>
<line x1="306.32" y1="265.20" x2="306.32" y2="266.30" stroke="#8a8a8a" stroke-width="0.45"/>
<line x1="307.15" y1="265.20" x2="307.15" y2="266.30" stroke="#8a8a8a" stroke-width="0.45"/>
<line x1="247.59" y1="265.20" x2="247.59" y2="266.30" stroke="#8a8a8a" stroke-width="0.45"/>
<line x1="251.67" y1="265.20" x2="251.67" y2="266.30" stroke="#8a8a8a" stroke-width="0.45"/>
<line x1="254.93" y1="265.20" x2="254.93" y2="266.30" stroke="#8a8a8a" stroke-width="0.45"/>
<text x="242.70" y="274.20" font-size="4.8" text-anchor="middle" fill="#555" font-weight="normal" >0</text>
<text x="259.60" y="274.20" font-size="4.8" text-anchor="middle" fill="#555" font-weight="normal" >10<tspan font-size="3.0" dy="-1.7">1</tspan></text>
<text x="275.90" y="274.20" font-size="4.8" text-anchor="middle" fill="#555" font-weight="normal" >10<tspan font-size="3.0" dy="-1.7">2</tspan></text>
<text x="292.20" y="274.20" font-size="4.8" text-anchor="middle" fill="#555" font-weight="normal" >10<tspan font-size="3.0" dy="-1.7">3</tspan></text>
<text x="308.50" y="274.20" font-size="4.8" text-anchor="middle" fill="#555" font-weight="normal" >10<tspan font-size="3.0" dy="-1.7">4</tspan></text>
<text x="258.20" y="205.10" font-size="3.3" text-anchor="middle" fill="#3a3a3a" font-weight="normal" >CD34+CD38-</text>
<text x="258.20" y="209.60" font-size="3.3" text-anchor="middle" fill="#3a3a3a" font-weight="normal" >14.5</text>
<text x="292.00" y="205.10" font-size="3.3" text-anchor="middle" fill="#3a3a3a" font-weight="normal" >CD34+CD38+</text>
<text x="292.00" y="209.60" font-size="3.3" text-anchor="middle" fill="#3a3a3a" font-weight="normal" >49.5</text>
<text x="275.65" y="237.85" font-size="3.3" text-anchor="middle" fill="#3a3a3a" font-weight="normal" >CD34- bulk</text>
<text x="275.65" y="242.35" font-size="3.3" text-anchor="middle" fill="#3a3a3a" font-weight="normal" >37.6</text>
<text x="370.40" y="181.60" font-size="7.8" text-anchor="middle" fill="#222" textLength="68.30" lengthAdjust="spacingAndGlyphs">JMML Splenocytes 1</text>
<g><clipPath id="cp3"><rect x="343.2" y="186.7" width="67.10" height="66.40"/></clipPath><g clip-path="url(#cp3)"><g filter="url(#dC)"><path d="M341,257 L342,238 L348,226 L356,214 L363,204 L370,199 L378,198.5 L386,203 L393,214 L398,228 L402,242 L406,257 Z" fill="#000" fill-opacity="0.5"/><ellipse cx="375" cy="208" rx="12" ry="9" fill="#000" fill-opacity="0.7"/><path d="M378,203 L388,208 L394,222 L398,236 L402,257 L384,257 L381,240 L376,225 Z" fill="#000" fill-opacity="0.55"/><path d="M341,257 L344,244 L356,236 L390,236 L398,246 L401,257 Z" fill="#000" fill-opacity="0.6"/></g><path d="M340,257 L342,244 L354,237 L388,237 L398,247 L401,257 Z" fill="#1f56cf" fill-opacity="0.9" filter="url(#b15)"/><path d="M348,257 L353,246 L372,242.5 L387,244.5 L393,257 Z" fill="#1aa2c9" filter="url(#b1)"/><path d="M357,257 L361,248.5 L384,248.5 L388,257 Z" fill="#2bb153" filter="url(#b1)"/></g><rect x="367.6" y="232.4" width="16.10" height="10.80" fill="#f2f8fb" fill-opacity="0.9"/></g>
<line x1="331.60" y1="186.70" x2="410.30" y2="186.70" stroke="#bdbdbd" stroke-width="0.7"/>
<line x1="410.30" y1="186.70" x2="410.30" y2="265.20" stroke="#bdbdbd" stroke-width="0.7"/>
<line x1="331.60" y1="186.40" x2="331.60" y2="265.60" stroke="#555" stroke-width="0.9"/>
<line x1="331.20" y1="265.20" x2="410.30" y2="265.20" stroke="#555" stroke-width="0.9"/>
<rect x="343.20" y="189.10" width="65.50" height="63.90" fill="none" stroke="#747474" stroke-width="0.9"/>
<line x1="343.20" y1="223.10" x2="408.70" y2="223.10" stroke="#5a5a5a" stroke-width="1.0"/>
<line x1="375.30" y1="189.10" x2="375.30" y2="223.10" stroke="#5a5a5a" stroke-width="1.0"/>
<line x1="329.40" y1="253.10" x2="331.60" y2="253.10" stroke="#555" stroke-width="0.9"/>
<line x1="329.40" y1="236.80" x2="331.60" y2="236.80" stroke="#555" stroke-width="0.9"/>
<line x1="329.40" y1="220.50" x2="331.60" y2="220.50" stroke="#555" stroke-width="0.9"/>
<line x1="329.40" y1="204.20" x2="331.60" y2="204.20" stroke="#555" stroke-width="0.9"/>
<line x1="329.40" y1="187.90" x2="331.60" y2="187.90" stroke="#555" stroke-width="0.9"/>
<line x1="330.50" y1="231.89" x2="331.60" y2="231.89" stroke="#8a8a8a" stroke-width="0.45"/>
<line x1="330.50" y1="229.02" x2="331.60" y2="229.02" stroke="#8a8a8a" stroke-width="0.45"/>
<line x1="330.50" y1="226.99" x2="331.60" y2="226.99" stroke="#8a8a8a" stroke-width="0.45"/>
<line x1="330.50" y1="225.41" x2="331.60" y2="225.41" stroke="#8a8a8a" stroke-width="0.45"/>
<line x1="330.50" y1="224.12" x2="331.60" y2="224.12" stroke="#8a8a8a" stroke-width="0.45"/>
<line x1="330.50" y1="223.02" x2="331.60" y2="223.02" stroke="#8a8a8a" stroke-width="0.45"/>
<line x1="330.50" y1="222.08" x2="331.60" y2="222.08" stroke="#8a8a8a" stroke-width="0.45"/>
<line x1="330.50" y1="221.25" x2="331.60" y2="221.25" stroke="#8a8a8a" stroke-width="0.45"/>
<line x1="330.50" y1="215.59" x2="331.60" y2="215.59" stroke="#8a8a8a" stroke-width="0.45"/>
<line x1="330.50" y1="212.72" x2="331.60" y2="212.72" stroke="#8a8a8a" stroke-width="0.45"/>
<line x1="330.50" y1="210.69" x2="331.60" y2="210.69" stroke="#8a8a8a" stroke-width="0.45"/>
<line x1="330.50" y1="209.11" x2="331.60" y2="209.11" stroke="#8a8a8a" stroke-width="0.45"/>
<line x1="330.50" y1="207.82" x2="331.60" y2="207.82" stroke="#8a8a8a" stroke-width="0.45"/>
<line x1="330.50" y1="206.72" x2="331.60" y2="206.72" stroke="#8a8a8a" stroke-width="0.45"/>
<line x1="330.50" y1="205.78" x2="331.60" y2="205.78" stroke="#8a8a8a" stroke-width="0.45"/>
<line x1="330.50" y1="204.95" x2="331.60" y2="204.95" stroke="#8a8a8a" stroke-width="0.45"/>
<line x1="330.50" y1="199.29" x2="331.60" y2="199.29" stroke="#8a8a8a" stroke-width="0.45"/>
<line x1="330.50" y1="196.42" x2="331.60" y2="196.42" stroke="#8a8a8a" stroke-width="0.45"/>
<line x1="330.50" y1="194.39" x2="331.60" y2="194.39" stroke="#8a8a8a" stroke-width="0.45"/>
<line x1="330.50" y1="192.81" x2="331.60" y2="192.81" stroke="#8a8a8a" stroke-width="0.45"/>
<line x1="330.50" y1="191.52" x2="331.60" y2="191.52" stroke="#8a8a8a" stroke-width="0.45"/>
<line x1="330.50" y1="190.42" x2="331.60" y2="190.42" stroke="#8a8a8a" stroke-width="0.45"/>
<line x1="330.50" y1="189.48" x2="331.60" y2="189.48" stroke="#8a8a8a" stroke-width="0.45"/>
<line x1="330.50" y1="188.65" x2="331.60" y2="188.65" stroke="#8a8a8a" stroke-width="0.45"/>
<line x1="330.50" y1="248.21" x2="331.60" y2="248.21" stroke="#8a8a8a" stroke-width="0.45"/>
<line x1="330.50" y1="244.13" x2="331.60" y2="244.13" stroke="#8a8a8a" stroke-width="0.45"/>
<line x1="330.50" y1="240.88" x2="331.60" y2="240.88" stroke="#8a8a8a" stroke-width="0.45"/>
<text x="327.40" y="254.80" font-size="4.8" text-anchor="end" fill="#555" font-weight="normal" >0</text>
<text x="326.80" y="238.60" font-size="4.8" text-anchor="end" fill="#555" font-weight="normal" >10<tspan font-size="3.0" dy="-1.7">1</tspan></text>
<text x="326.80" y="222.30" font-size="4.8" text-anchor="end" fill="#555" font-weight="normal" >10<tspan font-size="3.0" dy="-1.7">2</tspan></text>
<text x="326.80" y="206.00" font-size="4.8" text-anchor="end" fill="#555" font-weight="normal" >10<tspan font-size="3.0" dy="-1.7">3</tspan></text>
<text x="326.80" y="189.70" font-size="4.8" text-anchor="end" fill="#555" font-weight="normal" >10<tspan font-size="3.0" dy="-1.7">4</tspan></text>
<line x1="343.50" y1="265.20" x2="343.50" y2="267.20" stroke="#555" stroke-width="0.9"/>
<line x1="359.80" y1="265.20" x2="359.80" y2="267.20" stroke="#555" stroke-width="0.9"/>
<line x1="376.10" y1="265.20" x2="376.10" y2="267.20" stroke="#555" stroke-width="0.9"/>
<line x1="392.40" y1="265.20" x2="392.40" y2="267.20" stroke="#555" stroke-width="0.9"/>
<line x1="408.70" y1="265.20" x2="408.70" y2="267.20" stroke="#555" stroke-width="0.9"/>
<line x1="364.71" y1="265.20" x2="364.71" y2="266.30" stroke="#8a8a8a" stroke-width="0.45"/>
<line x1="367.58" y1="265.20" x2="367.58" y2="266.30" stroke="#8a8a8a" stroke-width="0.45"/>
<line x1="369.61" y1="265.20" x2="369.61" y2="266.30" stroke="#8a8a8a" stroke-width="0.45"/>
<line x1="371.19" y1="265.20" x2="371.19" y2="266.30" stroke="#8a8a8a" stroke-width="0.45"/>
<line x1="372.48" y1="265.20" x2="372.48" y2="266.30" stroke="#8a8a8a" stroke-width="0.45"/>
<line x1="373.58" y1="265.20" x2="373.58" y2="266.30" stroke="#8a8a8a" stroke-width="0.45"/>
<line x1="374.52" y1="265.20" x2="374.52" y2="266.30" stroke="#8a8a8a" stroke-width="0.45"/>
<line x1="375.35" y1="265.20" x2="375.35" y2="266.30" stroke="#8a8a8a" stroke-width="0.45"/>
<line x1="381.01" y1="265.20" x2="381.01" y2="266.30" stroke="#8a8a8a" stroke-width="0.45"/>
<line x1="383.88" y1="265.20" x2="383.88" y2="266.30" stroke="#8a8a8a" stroke-width="0.45"/>
<line x1="385.91" y1="265.20" x2="385.91" y2="266.30" stroke="#8a8a8a" stroke-width="0.45"/>
<line x1="387.49" y1="265.20" x2="387.49" y2="266.30" stroke="#8a8a8a" stroke-width="0.45"/>
<line x1="388.78" y1="265.20" x2="388.78" y2="266.30" stroke="#8a8a8a" stroke-width="0.45"/>
<line x1="389.88" y1="265.20" x2="389.88" y2="266.30" stroke="#8a8a8a" stroke-width="0.45"/>
<line x1="390.82" y1="265.20" x2="390.82" y2="266.30" stroke="#8a8a8a" stroke-width="0.45"/>
<line x1="391.65" y1="265.20" x2="391.65" y2="266.30" stroke="#8a8a8a" stroke-width="0.45"/>
<line x1="397.31" y1="265.20" x2="397.31" y2="266.30" stroke="#8a8a8a" stroke-width="0.45"/>
<line x1="400.18" y1="265.20" x2="400.18" y2="266.30" stroke="#8a8a8a" stroke-width="0.45"/>
<line x1="402.21" y1="265.20" x2="402.21" y2="266.30" stroke="#8a8a8a" stroke-width="0.45"/>
<line x1="403.79" y1="265.20" x2="403.79" y2="266.30" stroke="#8a8a8a" stroke-width="0.45"/>
<line x1="405.08" y1="265.20" x2="405.08" y2="266.30" stroke="#8a8a8a" stroke-width="0.45"/>
<line x1="406.18" y1="265.20" x2="406.18" y2="266.30" stroke="#8a8a8a" stroke-width="0.45"/>
<line x1="407.12" y1="265.20" x2="407.12" y2="266.30" stroke="#8a8a8a" stroke-width="0.45"/>
<line x1="407.95" y1="265.20" x2="407.95" y2="266.30" stroke="#8a8a8a" stroke-width="0.45"/>
<line x1="348.39" y1="265.20" x2="348.39" y2="266.30" stroke="#8a8a8a" stroke-width="0.45"/>
<line x1="352.46" y1="265.20" x2="352.46" y2="266.30" stroke="#8a8a8a" stroke-width="0.45"/>
<line x1="355.73" y1="265.20" x2="355.73" y2="266.30" stroke="#8a8a8a" stroke-width="0.45"/>
<text x="343.50" y="274.20" font-size="4.8" text-anchor="middle" fill="#555" font-weight="normal" >0</text>
<text x="360.40" y="274.20" font-size="4.8" text-anchor="middle" fill="#555" font-weight="normal" >10<tspan font-size="3.0" dy="-1.7">1</tspan></text>
<text x="376.70" y="274.20" font-size="4.8" text-anchor="middle" fill="#555" font-weight="normal" >10<tspan font-size="3.0" dy="-1.7">2</tspan></text>
<text x="393.00" y="274.20" font-size="4.8" text-anchor="middle" fill="#555" font-weight="normal" >10<tspan font-size="3.0" dy="-1.7">3</tspan></text>
<text x="409.30" y="274.20" font-size="4.8" text-anchor="middle" fill="#555" font-weight="normal" >10<tspan font-size="3.0" dy="-1.7">4</tspan></text>
<text x="355.90" y="196.60" font-size="3.3" text-anchor="middle" fill="#3a3a3a" font-weight="normal" >CD34+CD38-</text>
<text x="355.90" y="201.10" font-size="3.3" text-anchor="middle" fill="#3a3a3a" font-weight="normal" >0.90</text>
<text x="396.50" y="196.60" font-size="3.3" text-anchor="middle" fill="#3a3a3a" font-weight="normal" >CD34+CD38+</text>
<text x="396.50" y="201.10" font-size="3.3" text-anchor="middle" fill="#3a3a3a" font-weight="normal" >2.19</text>
<text x="375.65" y="237.20" font-size="3.3" text-anchor="middle" fill="#3a3a3a" font-weight="normal" >CD34- bulk</text>
<text x="375.65" y="241.70" font-size="3.3" text-anchor="middle" fill="#3a3a3a" font-weight="normal" >84.8</text>
<text x="471.90" y="181.60" font-size="7.8" text-anchor="middle" fill="#222" textLength="68.70" lengthAdjust="spacingAndGlyphs">JMML Splenocytes 2</text>
<g><clipPath id="cp4"><rect x="443.9" y="186.7" width="67.30" height="66.40"/></clipPath><g clip-path="url(#cp4)"><g filter="url(#dC)"><path d="M442,257 L443,240 L449,228 L457,216 L465,206 L472,201 L480,200.5 L488,205 L495,216 L500,230 L504,244 L509,257 Z" fill="#000" fill-opacity="0.5"/><ellipse cx="476" cy="210" rx="12" ry="9" fill="#000" fill-opacity="0.7"/><path d="M480,205 L490,210 L496,224 L500,238 L505,257 L486,257 L483,242 L478,227 Z" fill="#000" fill-opacity="0.55"/><path d="M442,257 L445,244 L457,236 L491,236 L499,246 L502,257 Z" fill="#000" fill-opacity="0.6"/></g><path d="M441,257 L443,244 L455,237 L489,237 L499,247 L502,257 Z" fill="#1f56cf" fill-opacity="0.9" filter="url(#b15)"/><path d="M449,257 L454,246 L473,242.5 L488,244.5 L494,257 Z" fill="#1aa2c9" filter="url(#b1)"/><path d="M458,257 L462,248.5 L485,248.5 L489,257 Z" fill="#2bb153" filter="url(#b1)"/></g><rect x="468.9" y="232.8" width="15.50" height="10.40" fill="#f2f8fb" fill-opacity="0.9"/></g>
<line x1="432.60" y1="186.70" x2="511.20" y2="186.70" stroke="#bdbdbd" stroke-width="0.7"/>
<line x1="511.20" y1="186.70" x2="511.20" y2="265.20" stroke="#bdbdbd" stroke-width="0.7"/>
<line x1="432.60" y1="186.40" x2="432.60" y2="265.60" stroke="#555" stroke-width="0.9"/>
<line x1="432.20" y1="265.20" x2="511.20" y2="265.20" stroke="#555" stroke-width="0.9"/>
<rect x="443.90" y="189.10" width="65.70" height="63.90" fill="none" stroke="#747474" stroke-width="0.9"/>
<line x1="443.90" y1="223.10" x2="509.60" y2="223.10" stroke="#5a5a5a" stroke-width="1.0"/>
<line x1="476.10" y1="189.10" x2="476.10" y2="223.10" stroke="#5a5a5a" stroke-width="1.0"/>
<line x1="430.40" y1="253.10" x2="432.60" y2="253.10" stroke="#555" stroke-width="0.9"/>
<line x1="430.40" y1="236.80" x2="432.60" y2="236.80" stroke="#555" stroke-width="0.9"/>
<line x1="430.40" y1="220.50" x2="432.60" y2="220.50" stroke="#555" stroke-width="0.9"/>
<line x1="430.40" y1="204.20" x2="432.60" y2="204.20" stroke="#555" stroke-width="0.9"/>
<line x1="430.40" y1="187.90" x2="432.60" y2="187.90" stroke="#555" stroke-width="0.9"/>
<line x1="431.50" y1="231.89" x2="432.60" y2="231.89" stroke="#8a8a8a" stroke-width="0.45"/>
<line x1="431.50" y1="229.02" x2="432.60" y2="229.02" stroke="#8a8a8a" stroke-width="0.45"/>
<line x1="431.50" y1="226.99" x2="432.60" y2="226.99" stroke="#8a8a8a" stroke-width="0.45"/>
<line x1="431.50" y1="225.41" x2="432.60" y2="225.41" stroke="#8a8a8a" stroke-width="0.45"/>
<line x1="431.50" y1="224.12" x2="432.60" y2="224.12" stroke="#8a8a8a" stroke-width="0.45"/>
<line x1="431.50" y1="223.02" x2="432.60" y2="223.02" stroke="#8a8a8a" stroke-width="0.45"/>
<line x1="431.50" y1="222.08" x2="432.60" y2="222.08" stroke="#8a8a8a" stroke-width="0.45"/>
<line x1="431.50" y1="221.25" x2="432.60" y2="221.25" stroke="#8a8a8a" stroke-width="0.45"/>
<line x1="431.50" y1="215.59" x2="432.60" y2="215.59" stroke="#8a8a8a" stroke-width="0.45"/>
<line x1="431.50" y1="212.72" x2="432.60" y2="212.72" stroke="#8a8a8a" stroke-width="0.45"/>
<line x1="431.50" y1="210.69" x2="432.60" y2="210.69" stroke="#8a8a8a" stroke-width="0.45"/>
<line x1="431.50" y1="209.11" x2="432.60" y2="209.11" stroke="#8a8a8a" stroke-width="0.45"/>
<line x1="431.50" y1="207.82" x2="432.60" y2="207.82" stroke="#8a8a8a" stroke-width="0.45"/>
<line x1="431.50" y1="206.72" x2="432.60" y2="206.72" stroke="#8a8a8a" stroke-width="0.45"/>
<line x1="431.50" y1="205.78" x2="432.60" y2="205.78" stroke="#8a8a8a" stroke-width="0.45"/>
<line x1="431.50" y1="204.95" x2="432.60" y2="204.95" stroke="#8a8a8a" stroke-width="0.45"/>
<line x1="431.50" y1="199.29" x2="432.60" y2="199.29" stroke="#8a8a8a" stroke-width="0.45"/>
<line x1="431.50" y1="196.42" x2="432.60" y2="196.42" stroke="#8a8a8a" stroke-width="0.45"/>
<line x1="431.50" y1="194.39" x2="432.60" y2="194.39" stroke="#8a8a8a" stroke-width="0.45"/>
<line x1="431.50" y1="192.81" x2="432.60" y2="192.81" stroke="#8a8a8a" stroke-width="0.45"/>
<line x1="431.50" y1="191.52" x2="432.60" y2="191.52" stroke="#8a8a8a" stroke-width="0.45"/>
<line x1="431.50" y1="190.42" x2="432.60" y2="190.42" stroke="#8a8a8a" stroke-width="0.45"/>
<line x1="431.50" y1="189.48" x2="432.60" y2="189.48" stroke="#8a8a8a" stroke-width="0.45"/>
<line x1="431.50" y1="188.65" x2="432.60" y2="188.65" stroke="#8a8a8a" stroke-width="0.45"/>
<line x1="431.50" y1="248.21" x2="432.60" y2="248.21" stroke="#8a8a8a" stroke-width="0.45"/>
<line x1="431.50" y1="244.13" x2="432.60" y2="244.13" stroke="#8a8a8a" stroke-width="0.45"/>
<line x1="431.50" y1="240.88" x2="432.60" y2="240.88" stroke="#8a8a8a" stroke-width="0.45"/>
<text x="428.40" y="254.80" font-size="4.8" text-anchor="end" fill="#555" font-weight="normal" >0</text>
<text x="427.80" y="238.60" font-size="4.8" text-anchor="end" fill="#555" font-weight="normal" >10<tspan font-size="3.0" dy="-1.7">1</tspan></text>
<text x="427.80" y="222.30" font-size="4.8" text-anchor="end" fill="#555" font-weight="normal" >10<tspan font-size="3.0" dy="-1.7">2</tspan></text>
<text x="427.80" y="206.00" font-size="4.8" text-anchor="end" fill="#555" font-weight="normal" >10<tspan font-size="3.0" dy="-1.7">3</tspan></text>
<text x="427.80" y="189.70" font-size="4.8" text-anchor="end" fill="#555" font-weight="normal" >10<tspan font-size="3.0" dy="-1.7">4</tspan></text>
<line x1="444.20" y1="265.20" x2="444.20" y2="267.20" stroke="#555" stroke-width="0.9"/>
<line x1="460.50" y1="265.20" x2="460.50" y2="267.20" stroke="#555" stroke-width="0.9"/>
<line x1="476.80" y1="265.20" x2="476.80" y2="267.20" stroke="#555" stroke-width="0.9"/>
<line x1="493.10" y1="265.20" x2="493.10" y2="267.20" stroke="#555" stroke-width="0.9"/>
<line x1="509.40" y1="265.20" x2="509.40" y2="267.20" stroke="#555" stroke-width="0.9"/>
<line x1="465.41" y1="265.20" x2="465.41" y2="266.30" stroke="#8a8a8a" stroke-width="0.45"/>
<line x1="468.28" y1="265.20" x2="468.28" y2="266.30" stroke="#8a8a8a" stroke-width="0.45"/>
<line x1="470.31" y1="265.20" x2="470.31" y2="266.30" stroke="#8a8a8a" stroke-width="0.45"/>
<line x1="471.89" y1="265.20" x2="471.89" y2="266.30" stroke="#8a8a8a" stroke-width="0.45"/>
<line x1="473.18" y1="265.20" x2="473.18" y2="266.30" stroke="#8a8a8a" stroke-width="0.45"/>
<line x1="474.28" y1="265.20" x2="474.28" y2="266.30" stroke="#8a8a8a" stroke-width="0.45"/>
<line x1="475.22" y1="265.20" x2="475.22" y2="266.30" stroke="#8a8a8a" stroke-width="0.45"/>
<line x1="476.05" y1="265.20" x2="476.05" y2="266.30" stroke="#8a8a8a" stroke-width="0.45"/>
<line x1="481.71" y1="265.20" x2="481.71" y2="266.30" stroke="#8a8a8a" stroke-width="0.45"/>
<line x1="484.58" y1="265.20" x2="484.58" y2="266.30" stroke="#8a8a8a" stroke-width="0.45"/>
<line x1="486.61" y1="265.20" x2="486.61" y2="266.30" stroke="#8a8a8a" stroke-width="0.45"/>
<line x1="488.19" y1="265.20" x2="488.19" y2="266.30" stroke="#8a8a8a" stroke-width="0.45"/>
<line x1="489.48" y1="265.20" x2="489.48" y2="266.30" stroke="#8a8a8a" stroke-width="0.45"/>
<line x1="490.58" y1="265.20" x2="490.58" y2="266.30" stroke="#8a8a8a" stroke-width="0.45"/>
<line x1="491.52" y1="265.20" x2="491.52" y2="266.30" stroke="#8a8a8a" stroke-width="0.45"/>
<line x1="492.35" y1="265.20" x2="492.35" y2="266.30" stroke="#8a8a8a" stroke-width="0.45"/>
<line x1="498.01" y1="265.20" x2="498.01" y2="266.30" stroke="#8a8a8a" stroke-width="0.45"/>
<line x1="500.88" y1="265.20" x2="500.88" y2="266.30" stroke="#8a8a8a" stroke-width="0.45"/>
<line x1="502.91" y1="265.20" x2="502.91" y2="266.30" stroke="#8a8a8a" stroke-width="0.45"/>
<line x1="504.49" y1="265.20" x2="504.49" y2="266.30" stroke="#8a8a8a" stroke-width="0.45"/>
<line x1="505.78" y1="265.20" x2="505.78" y2="266.30" stroke="#8a8a8a" stroke-width="0.45"/>
<line x1="506.88" y1="265.20" x2="506.88" y2="266.30" stroke="#8a8a8a" stroke-width="0.45"/>
<line x1="507.82" y1="265.20" x2="507.82" y2="266.30" stroke="#8a8a8a" stroke-width="0.45"/>
<line x1="508.65" y1="265.20" x2="508.65" y2="266.30" stroke="#8a8a8a" stroke-width="0.45"/>
<line x1="449.09" y1="265.20" x2="449.09" y2="266.30" stroke="#8a8a8a" stroke-width="0.45"/>
<line x1="453.16" y1="265.20" x2="453.16" y2="266.30" stroke="#8a8a8a" stroke-width="0.45"/>
<line x1="456.43" y1="265.20" x2="456.43" y2="266.30" stroke="#8a8a8a" stroke-width="0.45"/>
<text x="444.20" y="274.20" font-size="4.8" text-anchor="middle" fill="#555" font-weight="normal" >0</text>
<text x="461.10" y="274.20" font-size="4.8" text-anchor="middle" fill="#555" font-weight="normal" >10<tspan font-size="3.0" dy="-1.7">1</tspan></text>
<text x="477.40" y="274.20" font-size="4.8" text-anchor="middle" fill="#555" font-weight="normal" >10<tspan font-size="3.0" dy="-1.7">2</tspan></text>
<text x="493.70" y="274.20" font-size="4.8" text-anchor="middle" fill="#555" font-weight="normal" >10<tspan font-size="3.0" dy="-1.7">3</tspan></text>
<text x="510.00" y="274.20" font-size="4.8" text-anchor="middle" fill="#555" font-weight="normal" >10<tspan font-size="3.0" dy="-1.7">4</tspan></text>
<text x="455.90" y="197.50" font-size="3.3" text-anchor="middle" fill="#3a3a3a" font-weight="normal" >CD34+CD38-</text>
<text x="455.90" y="202.00" font-size="3.3" text-anchor="middle" fill="#3a3a3a" font-weight="normal" >1.03</text>
<text x="497.20" y="197.50" font-size="3.3" text-anchor="middle" fill="#3a3a3a" font-weight="normal" >CD34+CD38+</text>
<text x="497.20" y="202.00" font-size="3.3" text-anchor="middle" fill="#3a3a3a" font-weight="normal" >1.98</text>
<text x="476.65" y="237.40" font-size="3.3" text-anchor="middle" fill="#3a3a3a" font-weight="normal" >CD34- bulk</text>
<text x="476.65" y="241.90" font-size="3.3" text-anchor="middle" fill="#3a3a3a" font-weight="normal" >85.8</text>
<text x="169.80" y="290.90" font-size="7.8" text-anchor="middle" fill="#222" textLength="42.10" lengthAdjust="spacingAndGlyphs">NK + PBMC</text>
<g><clipPath id="cp5"><rect x="142.4" y="296.0" width="67.40" height="66.40"/></clipPath><g clip-path="url(#cp5)"><g filter="url(#dA)"><path d="M174,333.5 L187,333.5 Q195,337 197,346 L197,366 L180,366 Z" fill="#000" fill-opacity="0.55"/></g><path d="M139,334 L183,333.8 Q189,336 190.5,344 L190.5,366 L139,366 Z" fill="#272c9c" filter="url(#b05)"/><path d="M139,336.5 L181,336.5 Q186.5,340 187,350 L186,366 L139,366 Z" fill="#1f56cf" filter="url(#b1)"/><path d="M146,339 L176,339 Q181,343 181,352 L179,366 L146,366 Z" fill="#1aa2c9" filter="url(#b15)"/><ellipse cx="165" cy="349" rx="9" ry="6.5" fill="#2fb070" filter="url(#b15)"/><path d="M139,357.5 L172,357.5 L172,366 L139,366 Z" fill="#2bb153" filter="url(#b1)"/><ellipse cx="167" cy="361.5" rx="3.5" ry="1.5" fill="#e2dd2e" filter="url(#b1)"/></g><rect x="167.6" y="341.8" width="15.50" height="10.10" fill="#eaf6f0" fill-opacity="0.92"/></g>
<line x1="131.20" y1="296.00" x2="209.80" y2="296.00" stroke="#bdbdbd" stroke-width="0.7"/>
<line x1="209.80" y1="296.00" x2="209.80" y2="374.50" stroke="#bdbdbd" stroke-width="0.7"/>
<line x1="131.20" y1="295.70" x2="131.20" y2="374.90" stroke="#555" stroke-width="0.9"/>
<line x1="130.80" y1="374.50" x2="209.80" y2="374.50" stroke="#555" stroke-width="0.9"/>
<rect x="142.40" y="298.40" width="65.80" height="63.90" fill="none" stroke="#747474" stroke-width="0.9"/>
<line x1="142.40" y1="332.40" x2="208.20" y2="332.40" stroke="#5a5a5a" stroke-width="1.0"/>
<line x1="174.70" y1="298.40" x2="174.70" y2="332.40" stroke="#5a5a5a" stroke-width="1.0"/>
<line x1="129.00" y1="362.40" x2="131.20" y2="362.40" stroke="#555" stroke-width="0.9"/>
<line x1="129.00" y1="346.10" x2="131.20" y2="346.10" stroke="#555" stroke-width="0.9"/>
<line x1="129.00" y1="329.80" x2="131.20" y2="329.80" stroke="#555" stroke-width="0.9"/>
<line x1="129.00" y1="313.50" x2="131.20" y2="313.50" stroke="#555" stroke-width="0.9"/>
<line x1="129.00" y1="297.20" x2="131.20" y2="297.20" stroke="#555" stroke-width="0.9"/>
<line x1="130.10" y1="341.19" x2="131.20" y2="341.19" stroke="#8a8a8a" stroke-width="0.45"/>
<line x1="130.10" y1="338.32" x2="131.20" y2="338.32" stroke="#8a8a8a" stroke-width="0.45"/>
<line x1="130.10" y1="336.29" x2="131.20" y2="336.29" stroke="#8a8a8a" stroke-width="0.45"/>
<line x1="130.10" y1="334.71" x2="131.20" y2="334.71" stroke="#8a8a8a" stroke-width="0.45"/>
<line x1="130.10" y1="333.42" x2="131.20" y2="333.42" stroke="#8a8a8a" stroke-width="0.45"/>
<line x1="130.10" y1="332.32" x2="131.20" y2="332.32" stroke="#8a8a8a" stroke-width="0.45"/>
<line x1="130.10" y1="331.38" x2="131.20" y2="331.38" stroke="#8a8a8a" stroke-width="0.45"/>
<line x1="130.10" y1="330.55" x2="131.20" y2="330.55" stroke="#8a8a8a" stroke-width="0.45"/>
<line x1="130.10" y1="324.89" x2="131.20" y2="324.89" stroke="#8a8a8a" stroke-width="0.45"/>
<line x1="130.10" y1="322.02" x2="131.20" y2="322.02" stroke="#8a8a8a" stroke-width="0.45"/>
<line x1="130.10" y1="319.99" x2="131.20" y2="319.99" stroke="#8a8a8a" stroke-width="0.45"/>
<line x1="130.10" y1="318.41" x2="131.20" y2="318.41" stroke="#8a8a8a" stroke-width="0.45"/>
<line x1="130.10" y1="317.12" x2="131.20" y2="317.12" stroke="#8a8a8a" stroke-width="0.45"/>
<line x1="130.10" y1="316.02" x2="131.20" y2="316.02" stroke="#8a8a8a" stroke-width="0.45"/>
<line x1="130.10" y1="315.08" x2="131.20" y2="315.08" stroke="#8a8a8a" stroke-width="0.45"/>
<line x1="130.10" y1="314.25" x2="131.20" y2="314.25" stroke="#8a8a8a" stroke-width="0.45"/>
<line x1="130.10" y1="308.59" x2="131.20" y2="308.59" stroke="#8a8a8a" stroke-width="0.45"/>
<line x1="130.10" y1="305.72" x2="131.20" y2="305.72" stroke="#8a8a8a" stroke-width="0.45"/>
<line x1="130.10" y1="303.69" x2="131.20" y2="303.69" stroke="#8a8a8a" stroke-width="0.45"/>
<line x1="130.10" y1="302.11" x2="131.20" y2="302.11" stroke="#8a8a8a" stroke-width="0.45"/>
<line x1="130.10" y1="300.82" x2="131.20" y2="300.82" stroke="#8a8a8a" stroke-width="0.45"/>
<line x1="130.10" y1="299.72" x2="131.20" y2="299.72" stroke="#8a8a8a" stroke-width="0.45"/>
<line x1="130.10" y1="298.78" x2="131.20" y2="298.78" stroke="#8a8a8a" stroke-width="0.45"/>
<line x1="130.10" y1="297.95" x2="131.20" y2="297.95" stroke="#8a8a8a" stroke-width="0.45"/>
<line x1="130.10" y1="357.51" x2="131.20" y2="357.51" stroke="#8a8a8a" stroke-width="0.45"/>
<line x1="130.10" y1="353.44" x2="131.20" y2="353.44" stroke="#8a8a8a" stroke-width="0.45"/>
<line x1="130.10" y1="350.17" x2="131.20" y2="350.17" stroke="#8a8a8a" stroke-width="0.45"/>
<text x="127.00" y="364.10" font-size="4.8" text-anchor="end" fill="#555" font-weight="normal" >0</text>
<text x="126.40" y="347.90" font-size="4.8" text-anchor="end" fill="#555" font-weight="normal" >10<tspan font-size="3.0" dy="-1.7">1</tspan></text>
<text x="126.40" y="331.60" font-size="4.8" text-anchor="end" fill="#555" font-weight="normal" >10<tspan font-size="3.0" dy="-1.7">2</tspan></text>
<text x="126.40" y="315.30" font-size="4.8" text-anchor="end" fill="#555" font-weight="normal" >10<tspan font-size="3.0" dy="-1.7">3</tspan></text>
<text x="126.40" y="299.00" font-size="4.8" text-anchor="end" fill="#555" font-weight="normal" >10<tspan font-size="3.0" dy="-1.7">4</tspan></text>
<line x1="142.70" y1="374.50" x2="142.70" y2="376.50" stroke="#555" stroke-width="0.9"/>
<line x1="159.00" y1="374.50" x2="159.00" y2="376.50" stroke="#555" stroke-width="0.9"/>
<line x1="175.30" y1="374.50" x2="175.30" y2="376.50" stroke="#555" stroke-width="0.9"/>
<line x1="191.60" y1="374.50" x2="191.60" y2="376.50" stroke="#555" stroke-width="0.9"/>
<line x1="207.90" y1="374.50" x2="207.90" y2="376.50" stroke="#555" stroke-width="0.9"/>
<line x1="163.91" y1="374.50" x2="163.91" y2="375.60" stroke="#8a8a8a" stroke-width="0.45"/>
<line x1="166.78" y1="374.50" x2="166.78" y2="375.60" stroke="#8a8a8a" stroke-width="0.45"/>
<line x1="168.81" y1="374.50" x2="168.81" y2="375.60" stroke="#8a8a8a" stroke-width="0.45"/>
<line x1="170.39" y1="374.50" x2="170.39" y2="375.60" stroke="#8a8a8a" stroke-width="0.45"/>
<line x1="171.68" y1="374.50" x2="171.68" y2="375.60" stroke="#8a8a8a" stroke-width="0.45"/>
<line x1="172.78" y1="374.50" x2="172.78" y2="375.60" stroke="#8a8a8a" stroke-width="0.45"/>
<line x1="173.72" y1="374.50" x2="173.72" y2="375.60" stroke="#8a8a8a" stroke-width="0.45"/>
<line x1="174.55" y1="374.50" x2="174.55" y2="375.60" stroke="#8a8a8a" stroke-width="0.45"/>
<line x1="180.21" y1="374.50" x2="180.21" y2="375.60" stroke="#8a8a8a" stroke-width="0.45"/>
<line x1="183.08" y1="374.50" x2="183.08" y2="375.60" stroke="#8a8a8a" stroke-width="0.45"/>
<line x1="185.11" y1="374.50" x2="185.11" y2="375.60" stroke="#8a8a8a" stroke-width="0.45"/>
<line x1="186.69" y1="374.50" x2="186.69" y2="375.60" stroke="#8a8a8a" stroke-width="0.45"/>
<line x1="187.98" y1="374.50" x2="187.98" y2="375.60" stroke="#8a8a8a" stroke-width="0.45"/>
<line x1="189.08" y1="374.50" x2="189.08" y2="375.60" stroke="#8a8a8a" stroke-width="0.45"/>
<line x1="190.02" y1="374.50" x2="190.02" y2="375.60" stroke="#8a8a8a" stroke-width="0.45"/>
<line x1="190.85" y1="374.50" x2="190.85" y2="375.60" stroke="#8a8a8a" stroke-width="0.45"/>
<line x1="196.51" y1="374.50" x2="196.51" y2="375.60" stroke="#8a8a8a" stroke-width="0.45"/>
<line x1="199.38" y1="374.50" x2="199.38" y2="375.60" stroke="#8a8a8a" stroke-width="0.45"/>
<line x1="201.41" y1="374.50" x2="201.41" y2="375.60" stroke="#8a8a8a" stroke-width="0.45"/>
<line x1="202.99" y1="374.50" x2="202.99" y2="375.60" stroke="#8a8a8a" stroke-width="0.45"/>
<line x1="204.28" y1="374.50" x2="204.28" y2="375.60" stroke="#8a8a8a" stroke-width="0.45"/>
<line x1="205.38" y1="374.50" x2="205.38" y2="375.60" stroke="#8a8a8a" stroke-width="0.45"/>
<line x1="206.32" y1="374.50" x2="206.32" y2="375.60" stroke="#8a8a8a" stroke-width="0.45"/>
<line x1="207.15" y1="374.50" x2="207.15" y2="375.60" stroke="#8a8a8a" stroke-width="0.45"/>
<line x1="147.59" y1="374.50" x2="147.59" y2="375.60" stroke="#8a8a8a" stroke-width="0.45"/>
<line x1="151.67" y1="374.50" x2="151.67" y2="375.60" stroke="#8a8a8a" stroke-width="0.45"/>
<line x1="154.93" y1="374.50" x2="154.93" y2="375.60" stroke="#8a8a8a" stroke-width="0.45"/>
<text x="142.70" y="383.50" font-size="4.8" text-anchor="middle" fill="#555" font-weight="normal" >0</text>
<text x="159.60" y="383.50" font-size="4.8" text-anchor="middle" fill="#555" font-weight="normal" >10<tspan font-size="3.0" dy="-1.7">1</tspan></text>
<text x="175.90" y="383.50" font-size="4.8" text-anchor="middle" fill="#555" font-weight="normal" >10<tspan font-size="3.0" dy="-1.7">2</tspan></text>
<text x="192.20" y="383.50" font-size="4.8" text-anchor="middle" fill="#555" font-weight="normal" >10<tspan font-size="3.0" dy="-1.7">3</tspan></text>
<text x="208.50" y="383.50" font-size="4.8" text-anchor="middle" fill="#555" font-weight="normal" >10<tspan font-size="3.0" dy="-1.7">4</tspan></text>
<text x="158.20" y="314.00" font-size="3.3" text-anchor="middle" fill="#3a3a3a" font-weight="normal" >CD34+CD38-</text>
<text x="158.20" y="318.50" font-size="3.3" text-anchor="middle" fill="#3a3a3a" font-weight="normal" >0.024</text>
<text x="189.10" y="314.00" font-size="3.3" text-anchor="middle" fill="#3a3a3a" font-weight="normal" >CD34+CD38+</text>
<text x="189.10" y="318.50" font-size="3.3" text-anchor="middle" fill="#3a3a3a" font-weight="normal" >0.060</text>
<text x="175.35" y="346.25" font-size="3.3" text-anchor="middle" fill="#3a3a3a" font-weight="normal" >CD34- bulk</text>
<text x="175.35" y="350.75" font-size="3.3" text-anchor="middle" fill="#3a3a3a" font-weight="normal" >98.2</text>
<text x="270.10" y="290.90" font-size="7.8" text-anchor="middle" fill="#222" textLength="35.30" lengthAdjust="spacingAndGlyphs">NK + AML</text>
<g><clipPath id="cp6"><rect x="243.0" y="296.0" width="67.20" height="66.40"/></clipPath><g clip-path="url(#cp6)"><g filter="url(#dA)"><path d="M240,366 L240,337 L252,334 L264,331 L266.5,312 L292,312 L290,322 L287,335 L284,345 L283,366 Z" fill="#000"/><path d="M284,318 L294,316 L292,335 L289,350 L288,366 L280,366 Z" fill="#000" fill-opacity="0.3"/><path d="M248,334 L255,324 L263,315 L268,330 Z" fill="#000" fill-opacity="0.45"/></g><path d="M268.5,314.5 L290,314.5 L287,330 L283,340 L281,366 L240,366 L240,341 L262,336 L268.5,330 Z" fill="#1f56cf" filter="url(#b1)"/><path d="M270.5,316 L288.5,316 L285,333 L280,345 L279,366 L249,366 L248,346 L262,339 L270,332 Z" fill="#1aa2c9" filter="url(#b1)"/><ellipse cx="278.5" cy="326" rx="8" ry="10" fill="#2bb153" filter="url(#b15)"/><ellipse cx="260" cy="345" rx="12" ry="7" fill="#2bb153" filter="url(#b15)"/><ellipse cx="263" cy="347" rx="4.5" ry="3.2" fill="#b8d83a" filter="url(#b1)"/><path d="M266,338 L274,334 L278,340 L268,348 Z" fill="#2bb153" filter="url(#b1)"/><ellipse cx="277.7" cy="325.6" rx="4.0" ry="4.6" fill="#e2dd2e" filter="url(#b1)"/></g><rect x="248" y="310.8" width="20.30" height="8.80" fill="#ffffff" fill-opacity="0.9"/><rect x="281" y="310.8" width="21.00" height="8.80" fill="#ffffff" fill-opacity="0.9"/><rect x="267.6" y="341.8" width="16.10" height="10.70" fill="#eef8f2" fill-opacity="0.9"/></g>
<line x1="231.80" y1="296.00" x2="310.20" y2="296.00" stroke="#bdbdbd" stroke-width="0.7"/>
<line x1="310.20" y1="296.00" x2="310.20" y2="374.50" stroke="#bdbdbd" stroke-width="0.7"/>
<line x1="231.80" y1="295.70" x2="231.80" y2="374.90" stroke="#555" stroke-width="0.9"/>
<line x1="231.40" y1="374.50" x2="310.20" y2="374.50" stroke="#555" stroke-width="0.9"/>
<rect x="243.00" y="298.40" width="65.60" height="63.90" fill="none" stroke="#747474" stroke-width="0.9"/>
<line x1="243.00" y1="332.40" x2="308.60" y2="332.40" stroke="#5a5a5a" stroke-width="1.0"/>
<line x1="275.70" y1="298.40" x2="275.70" y2="332.40" stroke="#5a5a5a" stroke-width="1.0"/>
<line x1="229.60" y1="362.40" x2="231.80" y2="362.40" stroke="#555" stroke-width="0.9"/>
<line x1="229.60" y1="346.10" x2="231.80" y2="346.10" stroke="#555" stroke-width="0.9"/>
<line x1="229.60" y1="329.80" x2="231.80" y2="329.80" stroke="#555" stroke-width="0.9"/>
<line x1="229.60" y1="313.50" x2="231.80" y2="313.50" stroke="#555" stroke-width="0.9"/>
<line x1="229.60" y1="297.20" x2="231.80" y2="297.20" stroke="#555" stroke-width="0.9"/>
<line x1="230.70" y1="341.19" x2="231.80" y2="341.19" stroke="#8a8a8a" stroke-width="0.45"/>
<line x1="230.70" y1="338.32" x2="231.80" y2="338.32" stroke="#8a8a8a" stroke-width="0.45"/>
<line x1="230.70" y1="336.29" x2="231.80" y2="336.29" stroke="#8a8a8a" stroke-width="0.45"/>
<line x1="230.70" y1="334.71" x2="231.80" y2="334.71" stroke="#8a8a8a" stroke-width="0.45"/>
<line x1="230.70" y1="333.42" x2="231.80" y2="333.42" stroke="#8a8a8a" stroke-width="0.45"/>
<line x1="230.70" y1="332.32" x2="231.80" y2="332.32" stroke="#8a8a8a" stroke-width="0.45"/>
<line x1="230.70" y1="331.38" x2="231.80" y2="331.38" stroke="#8a8a8a" stroke-width="0.45"/>
<line x1="230.70" y1="330.55" x2="231.80" y2="330.55" stroke="#8a8a8a" stroke-width="0.45"/>
<line x1="230.70" y1="324.89" x2="231.80" y2="324.89" stroke="#8a8a8a" stroke-width="0.45"/>
<line x1="230.70" y1="322.02" x2="231.80" y2="322.02" stroke="#8a8a8a" stroke-width="0.45"/>
<line x1="230.70" y1="319.99" x2="231.80" y2="319.99" stroke="#8a8a8a" stroke-width="0.45"/>
<line x1="230.70" y1="318.41" x2="231.80" y2="318.41" stroke="#8a8a8a" stroke-width="0.45"/>
<line x1="230.70" y1="317.12" x2="231.80" y2="317.12" stroke="#8a8a8a" stroke-width="0.45"/>
<line x1="230.70" y1="316.02" x2="231.80" y2="316.02" stroke="#8a8a8a" stroke-width="0.45"/>
<line x1="230.70" y1="315.08" x2="231.80" y2="315.08" stroke="#8a8a8a" stroke-width="0.45"/>
<line x1="230.70" y1="314.25" x2="231.80" y2="314.25" stroke="#8a8a8a" stroke-width="0.45"/>
<line x1="230.70" y1="308.59" x2="231.80" y2="308.59" stroke="#8a8a8a" stroke-width="0.45"/>
<line x1="230.70" y1="305.72" x2="231.80" y2="305.72" stroke="#8a8a8a" stroke-width="0.45"/>
<line x1="230.70" y1="303.69" x2="231.80" y2="303.69" stroke="#8a8a8a" stroke-width="0.45"/>
<line x1="230.70" y1="302.11" x2="231.80" y2="302.11" stroke="#8a8a8a" stroke-width="0.45"/>
<line x1="230.70" y1="300.82" x2="231.80" y2="300.82" stroke="#8a8a8a" stroke-width="0.45"/>
<line x1="230.70" y1="299.72" x2="231.80" y2="299.72" stroke="#8a8a8a" stroke-width="0.45"/>
<line x1="230.70" y1="298.78" x2="231.80" y2="298.78" stroke="#8a8a8a" stroke-width="0.45"/>
<line x1="230.70" y1="297.95" x2="231.80" y2="297.95" stroke="#8a8a8a" stroke-width="0.45"/>
<line x1="230.70" y1="357.51" x2="231.80" y2="357.51" stroke="#8a8a8a" stroke-width="0.45"/>
<line x1="230.70" y1="353.44" x2="231.80" y2="353.44" stroke="#8a8a8a" stroke-width="0.45"/>
<line x1="230.70" y1="350.17" x2="231.80" y2="350.17" stroke="#8a8a8a" stroke-width="0.45"/>
<text x="227.60" y="364.10" font-size="4.8" text-anchor="end" fill="#555" font-weight="normal" >0</text>
<text x="227.00" y="347.90" font-size="4.8" text-anchor="end" fill="#555" font-weight="normal" >10<tspan font-size="3.0" dy="-1.7">1</tspan></text>
<text x="227.00" y="331.60" font-size="4.8" text-anchor="end" fill="#555" font-weight="normal" >10<tspan font-size="3.0" dy="-1.7">2</tspan></text>
<text x="227.00" y="315.30" font-size="4.8" text-anchor="end" fill="#555" font-weight="normal" >10<tspan font-size="3.0" dy="-1.7">3</tspan></text>
<text x="227.00" y="299.00" font-size="4.8" text-anchor="end" fill="#555" font-weight="normal" >10<tspan font-size="3.0" dy="-1.7">4</tspan></text>
<line x1="243.30" y1="374.50" x2="243.30" y2="376.50" stroke="#555" stroke-width="0.9"/>
<line x1="259.60" y1="374.50" x2="259.60" y2="376.50" stroke="#555" stroke-width="0.9"/>
<line x1="275.90" y1="374.50" x2="275.90" y2="376.50" stroke="#555" stroke-width="0.9"/>
<line x1="292.20" y1="374.50" x2="292.20" y2="376.50" stroke="#555" stroke-width="0.9"/>
<line x1="308.50" y1="374.50" x2="308.50" y2="376.50" stroke="#555" stroke-width="0.9"/>
<line x1="264.51" y1="374.50" x2="264.51" y2="375.60" stroke="#8a8a8a" stroke-width="0.45"/>
<line x1="267.38" y1="374.50" x2="267.38" y2="375.60" stroke="#8a8a8a" stroke-width="0.45"/>
<line x1="269.41" y1="374.50" x2="269.41" y2="375.60" stroke="#8a8a8a" stroke-width="0.45"/>
<line x1="270.99" y1="374.50" x2="270.99" y2="375.60" stroke="#8a8a8a" stroke-width="0.45"/>
<line x1="272.28" y1="374.50" x2="272.28" y2="375.60" stroke="#8a8a8a" stroke-width="0.45"/>
<line x1="273.38" y1="374.50" x2="273.38" y2="375.60" stroke="#8a8a8a" stroke-width="0.45"/>
<line x1="274.32" y1="374.50" x2="274.32" y2="375.60" stroke="#8a8a8a" stroke-width="0.45"/>
<line x1="275.15" y1="374.50" x2="275.15" y2="375.60" stroke="#8a8a8a" stroke-width="0.45"/>
<line x1="280.81" y1="374.50" x2="280.81" y2="375.60" stroke="#8a8a8a" stroke-width="0.45"/>
<line x1="283.68" y1="374.50" x2="283.68" y2="375.60" stroke="#8a8a8a" stroke-width="0.45"/>
<line x1="285.71" y1="374.50" x2="285.71" y2="375.60" stroke="#8a8a8a" stroke-width="0.45"/>
<line x1="287.29" y1="374.50" x2="287.29" y2="375.60" stroke="#8a8a8a" stroke-width="0.45"/>
<line x1="288.58" y1="374.50" x2="288.58" y2="375.60" stroke="#8a8a8a" stroke-width="0.45"/>
<line x1="289.68" y1="374.50" x2="289.68" y2="375.60" stroke="#8a8a8a" stroke-width="0.45"/>
<line x1="290.62" y1="374.50" x2="290.62" y2="375.60" stroke="#8a8a8a" stroke-width="0.45"/>
<line x1="291.45" y1="374.50" x2="291.45" y2="375.60" stroke="#8a8a8a" stroke-width="0.45"/>
<line x1="297.11" y1="374.50" x2="297.11" y2="375.60" stroke="#8a8a8a" stroke-width="0.45"/>
<line x1="299.98" y1="374.50" x2="299.98" y2="375.60" stroke="#8a8a8a" stroke-width="0.45"/>
<line x1="302.01" y1="374.50" x2="302.01" y2="375.60" stroke="#8a8a8a" stroke-width="0.45"/>
<line x1="303.59" y1="374.50" x2="303.59" y2="375.60" stroke="#8a8a8a" stroke-width="0.45"/>
<line x1="304.88" y1="374.50" x2="304.88" y2="375.60" stroke="#8a8a8a" stroke-width="0.45"/>
<line x1="305.98" y1="374.50" x2="305.98" y2="375.60" stroke="#8a8a8a" stroke-width="0.45"/>
<line x1="306.92" y1="374.50" x2="306.92" y2="375.60" stroke="#8a8a8a" stroke-width="0.45"/>
<line x1="307.75" y1="374.50" x2="307.75" y2="375.60" stroke="#8a8a8a" stroke-width="0.45"/>
<line x1="248.19" y1="374.50" x2="248.19" y2="375.60" stroke="#8a8a8a" stroke-width="0.45"/>
<line x1="252.27" y1="374.50" x2="252.27" y2="375.60" stroke="#8a8a8a" stroke-width="0.45"/>
<line x1="255.53" y1="374.50" x2="255.53" y2="375.60" stroke="#8a8a8a" stroke-width="0.45"/>
<text x="243.30" y="383.50" font-size="4.8" text-anchor="middle" fill="#555" font-weight="normal" >0</text>
<text x="260.20" y="383.50" font-size="4.8" text-anchor="middle" fill="#555" font-weight="normal" >10<tspan font-size="3.0" dy="-1.7">1</tspan></text>
<text x="276.50" y="383.50" font-size="4.8" text-anchor="middle" fill="#555" font-weight="normal" >10<tspan font-size="3.0" dy="-1.7">2</tspan></text>
<text x="292.80" y="383.50" font-size="4.8" text-anchor="middle" fill="#555" font-weight="normal" >10<tspan font-size="3.0" dy="-1.7">3</tspan></text>
<text x="309.10" y="383.50" font-size="4.8" text-anchor="middle" fill="#555" font-weight="normal" >10<tspan font-size="3.0" dy="-1.7">4</tspan></text>
<text x="258.20" y="314.40" font-size="3.3" text-anchor="middle" fill="#3a3a3a" font-weight="normal" >CD34+CD38-</text>
<text x="258.20" y="318.90" font-size="3.3" text-anchor="middle" fill="#3a3a3a" font-weight="normal" >8.19</text>
<text x="291.80" y="314.40" font-size="3.3" text-anchor="middle" fill="#3a3a3a" font-weight="normal" >CD34+CD38+</text>
<text x="291.80" y="318.90" font-size="3.3" text-anchor="middle" fill="#3a3a3a" font-weight="normal" >20.9</text>
<text x="275.65" y="346.55" font-size="3.3" text-anchor="middle" fill="#3a3a3a" font-weight="normal" >CD34- bulk</text>
<text x="275.65" y="351.05" font-size="3.3" text-anchor="middle" fill="#3a3a3a" font-weight="normal" >62.6</text>
<text x="370.15" y="290.90" font-size="7.8" text-anchor="middle" fill="#222" textLength="44.60" lengthAdjust="spacingAndGlyphs">NK + JMML 1</text>
<g><clipPath id="cp7"><rect x="343.8" y="296.0" width="66.60" height="66.40"/></clipPath><g clip-path="url(#cp7)"><g filter="url(#dA)"><path d="M380,333 L392,333 Q401,338 403,348 L402,366 L388,366 Z" fill="#000" fill-opacity="0.55"/></g><path d="M340,333.4 L389,333.2 Q395,337 396.5,346 L396,366 L340,366 Z" fill="#272c9c" filter="url(#b05)"/><path d="M340,335.5 L386,335.5 Q392,340 393,350 L392,366 L340,366 Z" fill="#1f56cf" filter="url(#b1)"/><path d="M348,338.5 L380,338.5 Q386,343 386,352 L385,366 L348,366 Z" fill="#1aa2c9" filter="url(#b15)"/><path d="M354,342 L376,342 Q381,348 381,366 L354,366 Z" fill="#2fb070" filter="url(#b2)"/><path d="M350,352 L380,352 L380,366 L350,366 Z" fill="#2fb070" filter="url(#b15)"/></g><rect x="368.3" y="342.4" width="15.40" height="10.10" fill="#eaf6f0" fill-opacity="0.92"/></g>
<line x1="332.60" y1="296.00" x2="410.40" y2="296.00" stroke="#bdbdbd" stroke-width="0.7"/>
<line x1="410.40" y1="296.00" x2="410.40" y2="374.50" stroke="#bdbdbd" stroke-width="0.7"/>
<line x1="332.60" y1="295.70" x2="332.60" y2="374.90" stroke="#555" stroke-width="0.9"/>
<line x1="332.20" y1="374.50" x2="410.40" y2="374.50" stroke="#555" stroke-width="0.9"/>
<rect x="343.80" y="298.40" width="65.00" height="63.90" fill="none" stroke="#747474" stroke-width="0.9"/>
<line x1="343.80" y1="332.40" x2="408.80" y2="332.40" stroke="#5a5a5a" stroke-width="1.0"/>
<line x1="375.70" y1="298.40" x2="375.70" y2="332.40" stroke="#5a5a5a" stroke-width="1.0"/>
<line x1="330.40" y1="362.40" x2="332.60" y2="362.40" stroke="#555" stroke-width="0.9"/>
<line x1="330.40" y1="346.10" x2="332.60" y2="346.10" stroke="#555" stroke-width="0.9"/>
<line x1="330.40" y1="329.80" x2="332.60" y2="329.80" stroke="#555" stroke-width="0.9"/>
<line x1="330.40" y1="313.50" x2="332.60" y2="313.50" stroke="#555" stroke-width="0.9"/>
<line x1="330.40" y1="297.20" x2="332.60" y2="297.20" stroke="#555" stroke-width="0.9"/>
<line x1="331.50" y1="341.19" x2="332.60" y2="341.19" stroke="#8a8a8a" stroke-width="0.45"/>
<line x1="331.50" y1="338.32" x2="332.60" y2="338.32" stroke="#8a8a8a" stroke-width="0.45"/>
<line x1="331.50" y1="336.29" x2="332.60" y2="336.29" stroke="#8a8a8a" stroke-width="0.45"/>
<line x1="331.50" y1="334.71" x2="332.60" y2="334.71" stroke="#8a8a8a" stroke-width="0.45"/>
<line x1="331.50" y1="333.42" x2="332.60" y2="333.42" stroke="#8a8a8a" stroke-width="0.45"/>
<line x1="331.50" y1="332.32" x2="332.60" y2="332.32" stroke="#8a8a8a" stroke-width="0.45"/>
<line x1="331.50" y1="331.38" x2="332.60" y2="331.38" stroke="#8a8a8a" stroke-width="0.45"/>
<line x1="331.50" y1="330.55" x2="332.60" y2="330.55" stroke="#8a8a8a" stroke-width="0.45"/>
<line x1="331.50" y1="324.89" x2="332.60" y2="324.89" stroke="#8a8a8a" stroke-width="0.45"/>
<line x1="331.50" y1="322.02" x2="332.60" y2="322.02" stroke="#8a8a8a" stroke-width="0.45"/>
<line x1="331.50" y1="319.99" x2="332.60" y2="319.99" stroke="#8a8a8a" stroke-width="0.45"/>
<line x1="331.50" y1="318.41" x2="332.60" y2="318.41" stroke="#8a8a8a" stroke-width="0.45"/>
<line x1="331.50" y1="317.12" x2="332.60" y2="317.12" stroke="#8a8a8a" stroke-width="0.45"/>
<line x1="331.50" y1="316.02" x2="332.60" y2="316.02" stroke="#8a8a8a" stroke-width="0.45"/>
<line x1="331.50" y1="315.08" x2="332.60" y2="315.08" stroke="#8a8a8a" stroke-width="0.45"/>
<line x1="331.50" y1="314.25" x2="332.60" y2="314.25" stroke="#8a8a8a" stroke-width="0.45"/>
<line x1="331.50" y1="308.59" x2="332.60" y2="308.59" stroke="#8a8a8a" stroke-width="0.45"/>
<line x1="331.50" y1="305.72" x2="332.60" y2="305.72" stroke="#8a8a8a" stroke-width="0.45"/>
<line x1="331.50" y1="303.69" x2="332.60" y2="303.69" stroke="#8a8a8a" stroke-width="0.45"/>
<line x1="331.50" y1="302.11" x2="332.60" y2="302.11" stroke="#8a8a8a" stroke-width="0.45"/>
<line x1="331.50" y1="300.82" x2="332.60" y2="300.82" stroke="#8a8a8a" stroke-width="0.45"/>
<line x1="331.50" y1="299.72" x2="332.60" y2="299.72" stroke="#8a8a8a" stroke-width="0.45"/>
<line x1="331.50" y1="298.78" x2="332.60" y2="298.78" stroke="#8a8a8a" stroke-width="0.45"/>
<line x1="331.50" y1="297.95" x2="332.60" y2="297.95" stroke="#8a8a8a" stroke-width="0.45"/>
<line x1="331.50" y1="357.51" x2="332.60" y2="357.51" stroke="#8a8a8a" stroke-width="0.45"/>
<line x1="331.50" y1="353.44" x2="332.60" y2="353.44" stroke="#8a8a8a" stroke-width="0.45"/>
<line x1="331.50" y1="350.17" x2="332.60" y2="350.17" stroke="#8a8a8a" stroke-width="0.45"/>
<text x="328.40" y="364.10" font-size="4.8" text-anchor="end" fill="#555" font-weight="normal" >0</text>
<text x="327.80" y="347.90" font-size="4.8" text-anchor="end" fill="#555" font-weight="normal" >10<tspan font-size="3.0" dy="-1.7">1</tspan></text>
<text x="327.80" y="331.60" font-size="4.8" text-anchor="end" fill="#555" font-weight="normal" >10<tspan font-size="3.0" dy="-1.7">2</tspan></text>
<text x="327.80" y="315.30" font-size="4.8" text-anchor="end" fill="#555" font-weight="normal" >10<tspan font-size="3.0" dy="-1.7">3</tspan></text>
<text x="327.80" y="299.00" font-size="4.8" text-anchor="end" fill="#555" font-weight="normal" >10<tspan font-size="3.0" dy="-1.7">4</tspan></text>
<line x1="344.10" y1="374.50" x2="344.10" y2="376.50" stroke="#555" stroke-width="0.9"/>
<line x1="360.40" y1="374.50" x2="360.40" y2="376.50" stroke="#555" stroke-width="0.9"/>
<line x1="376.70" y1="374.50" x2="376.70" y2="376.50" stroke="#555" stroke-width="0.9"/>
<line x1="393.00" y1="374.50" x2="393.00" y2="376.50" stroke="#555" stroke-width="0.9"/>
<line x1="409.30" y1="374.50" x2="409.30" y2="376.50" stroke="#555" stroke-width="0.9"/>
<line x1="365.31" y1="374.50" x2="365.31" y2="375.60" stroke="#8a8a8a" stroke-width="0.45"/>
<line x1="368.18" y1="374.50" x2="368.18" y2="375.60" stroke="#8a8a8a" stroke-width="0.45"/>
<line x1="370.21" y1="374.50" x2="370.21" y2="375.60" stroke="#8a8a8a" stroke-width="0.45"/>
<line x1="371.79" y1="374.50" x2="371.79" y2="375.60" stroke="#8a8a8a" stroke-width="0.45"/>
<line x1="373.08" y1="374.50" x2="373.08" y2="375.60" stroke="#8a8a8a" stroke-width="0.45"/>
<line x1="374.18" y1="374.50" x2="374.18" y2="375.60" stroke="#8a8a8a" stroke-width="0.45"/>
<line x1="375.12" y1="374.50" x2="375.12" y2="375.60" stroke="#8a8a8a" stroke-width="0.45"/>
<line x1="375.95" y1="374.50" x2="375.95" y2="375.60" stroke="#8a8a8a" stroke-width="0.45"/>
<line x1="381.61" y1="374.50" x2="381.61" y2="375.60" stroke="#8a8a8a" stroke-width="0.45"/>
<line x1="384.48" y1="374.50" x2="384.48" y2="375.60" stroke="#8a8a8a" stroke-width="0.45"/>
<line x1="386.51" y1="374.50" x2="386.51" y2="375.60" stroke="#8a8a8a" stroke-width="0.45"/>
<line x1="388.09" y1="374.50" x2="388.09" y2="375.60" stroke="#8a8a8a" stroke-width="0.45"/>
<line x1="389.38" y1="374.50" x2="389.38" y2="375.60" stroke="#8a8a8a" stroke-width="0.45"/>
<line x1="390.48" y1="374.50" x2="390.48" y2="375.60" stroke="#8a8a8a" stroke-width="0.45"/>
<line x1="391.42" y1="374.50" x2="391.42" y2="375.60" stroke="#8a8a8a" stroke-width="0.45"/>
<line x1="392.25" y1="374.50" x2="392.25" y2="375.60" stroke="#8a8a8a" stroke-width="0.45"/>
<line x1="397.91" y1="374.50" x2="397.91" y2="375.60" stroke="#8a8a8a" stroke-width="0.45"/>
<line x1="400.78" y1="374.50" x2="400.78" y2="375.60" stroke="#8a8a8a" stroke-width="0.45"/>
<line x1="402.81" y1="374.50" x2="402.81" y2="375.60" stroke="#8a8a8a" stroke-width="0.45"/>
<line x1="404.39" y1="374.50" x2="404.39" y2="375.60" stroke="#8a8a8a" stroke-width="0.45"/>
<line x1="405.68" y1="374.50" x2="405.68" y2="375.60" stroke="#8a8a8a" stroke-width="0.45"/>
<line x1="406.78" y1="374.50" x2="406.78" y2="375.60" stroke="#8a8a8a" stroke-width="0.45"/>
<line x1="407.72" y1="374.50" x2="407.72" y2="375.60" stroke="#8a8a8a" stroke-width="0.45"/>
<line x1="408.55" y1="374.50" x2="408.55" y2="375.60" stroke="#8a8a8a" stroke-width="0.45"/>
<line x1="348.99" y1="374.50" x2="348.99" y2="375.60" stroke="#8a8a8a" stroke-width="0.45"/>
<line x1="353.06" y1="374.50" x2="353.06" y2="375.60" stroke="#8a8a8a" stroke-width="0.45"/>
<line x1="356.33" y1="374.50" x2="356.33" y2="375.60" stroke="#8a8a8a" stroke-width="0.45"/>
<text x="344.10" y="383.50" font-size="4.8" text-anchor="middle" fill="#555" font-weight="normal" >0</text>
<text x="361.00" y="383.50" font-size="4.8" text-anchor="middle" fill="#555" font-weight="normal" >10<tspan font-size="3.0" dy="-1.7">1</tspan></text>
<text x="377.30" y="383.50" font-size="4.8" text-anchor="middle" fill="#555" font-weight="normal" >10<tspan font-size="3.0" dy="-1.7">2</tspan></text>
<text x="393.60" y="383.50" font-size="4.8" text-anchor="middle" fill="#555" font-weight="normal" >10<tspan font-size="3.0" dy="-1.7">3</tspan></text>
<text x="409.90" y="383.50" font-size="4.8" text-anchor="middle" fill="#555" font-weight="normal" >10<tspan font-size="3.0" dy="-1.7">4</tspan></text>
<text x="356.20" y="306.90" font-size="3.3" text-anchor="middle" fill="#3a3a3a" font-weight="normal" >CD34+CD38-</text>
<text x="356.20" y="311.40" font-size="3.3" text-anchor="middle" fill="#3a3a3a" font-weight="normal" >0.052</text>
<text x="393.80" y="306.90" font-size="3.3" text-anchor="middle" fill="#3a3a3a" font-weight="normal" >CD34+CD38+</text>
<text x="393.80" y="311.40" font-size="3.3" text-anchor="middle" fill="#3a3a3a" font-weight="normal" >0.089</text>
<text x="376.00" y="346.85" font-size="3.3" text-anchor="middle" fill="#3a3a3a" font-weight="normal" >CD34- bulk</text>
<text x="376.00" y="351.35" font-size="3.3" text-anchor="middle" fill="#3a3a3a" font-weight="normal" >98.7</text>
<text x="470.80" y="290.90" font-size="7.8" text-anchor="middle" fill="#222" textLength="45.90" lengthAdjust="spacingAndGlyphs">NK + JMML 2</text>
<g><clipPath id="cp8"><rect x="444.4" y="296.0" width="66.00" height="66.40"/></clipPath><g clip-path="url(#cp8)"><g filter="url(#dL)"><path d="M468,336 L473,322 L480,310 L489,312 L494,324 L500,340 L504,354 L504,366 L485,366 Z" fill="#000" fill-opacity="0.45"/></g><g filter="url(#dC)"><path d="M472,336 L477,324 L484,318 L490,322 L494,334 L499,348 L500,366 L486,366 Z" fill="#000" fill-opacity="0.32"/></g><path d="M441,335.2 L482,334.5 L488,340 L491,350 L490,366 L441,366 Z" fill="#272c9c" filter="url(#b05)"/><path d="M441,337.5 L479,337.5 L485,345 L485,366 L441,366 Z" fill="#1f56cf" filter="url(#b1)"/><path d="M447,340 L476,340 L481,350 L480,366 L447,366 Z" fill="#1aa2c9" filter="url(#b15)"/><path d="M456,350 L478,350 L479,366 L456,366 Z" fill="#2fb070" filter="url(#b15)"/></g><rect x="468.9" y="341.8" width="15.50" height="10.10" fill="#f2f8fb" fill-opacity="0.9"/></g>
<line x1="433.20" y1="296.00" x2="510.40" y2="296.00" stroke="#bdbdbd" stroke-width="0.7"/>
<line x1="510.40" y1="296.00" x2="510.40" y2="374.50" stroke="#bdbdbd" stroke-width="0.7"/>
<line x1="433.20" y1="295.70" x2="433.20" y2="374.90" stroke="#555" stroke-width="0.9"/>
<line x1="432.80" y1="374.50" x2="510.40" y2="374.50" stroke="#555" stroke-width="0.9"/>
<rect x="444.40" y="298.40" width="64.40" height="63.90" fill="none" stroke="#747474" stroke-width="0.9"/>
<line x1="444.40" y1="332.40" x2="508.80" y2="332.40" stroke="#5a5a5a" stroke-width="1.0"/>
<line x1="476.30" y1="298.40" x2="476.30" y2="332.40" stroke="#5a5a5a" stroke-width="1.0"/>
<line x1="431.00" y1="362.40" x2="433.20" y2="362.40" stroke="#555" stroke-width="0.9"/>
<line x1="431.00" y1="346.10" x2="433.20" y2="346.10" stroke="#555" stroke-width="0.9"/>
<line x1="431.00" y1="329.80" x2="433.20" y2="329.80" stroke="#555" stroke-width="0.9"/>
<line x1="431.00" y1="313.50" x2="433.20" y2="313.50" stroke="#555" stroke-width="0.9"/>
<line x1="431.00" y1="297.20" x2="433.20" y2="297.20" stroke="#555" stroke-width="0.9"/>
<line x1="432.10" y1="341.19" x2="433.20" y2="341.19" stroke="#8a8a8a" stroke-width="0.45"/>
<line x1="432.10" y1="338.32" x2="433.20" y2="338.32" stroke="#8a8a8a" stroke-width="0.45"/>
<line x1="432.10" y1="336.29" x2="433.20" y2="336.29" stroke="#8a8a8a" stroke-width="0.45"/>
<line x1="432.10" y1="334.71" x2="433.20" y2="334.71" stroke="#8a8a8a" stroke-width="0.45"/>
<line x1="432.10" y1="333.42" x2="433.20" y2="333.42" stroke="#8a8a8a" stroke-width="0.45"/>
<line x1="432.10" y1="332.32" x2="433.20" y2="332.32" stroke="#8a8a8a" stroke-width="0.45"/>
<line x1="432.10" y1="331.38" x2="433.20" y2="331.38" stroke="#8a8a8a" stroke-width="0.45"/>
<line x1="432.10" y1="330.55" x2="433.20" y2="330.55" stroke="#8a8a8a" stroke-width="0.45"/>
<line x1="432.10" y1="324.89" x2="433.20" y2="324.89" stroke="#8a8a8a" stroke-width="0.45"/>
<line x1="432.10" y1="322.02" x2="433.20" y2="322.02" stroke="#8a8a8a" stroke-width="0.45"/>
<line x1="432.10" y1="319.99" x2="433.20" y2="319.99" stroke="#8a8a8a" stroke-width="0.45"/>
<line x1="432.10" y1="318.41" x2="433.20" y2="318.41" stroke="#8a8a8a" stroke-width="0.45"/>
<line x1="432.10" y1="317.12" x2="433.20" y2="317.12" stroke="#8a8a8a" stroke-width="0.45"/>
<line x1="432.10" y1="316.02" x2="433.20" y2="316.02" stroke="#8a8a8a" stroke-width="0.45"/>
<line x1="432.10" y1="315.08" x2="433.20" y2="315.08" stroke="#8a8a8a" stroke-width="0.45"/>
<line x1="432.10" y1="314.25" x2="433.20" y2="314.25" stroke="#8a8a8a" stroke-width="0.45"/>
<line x1="432.10" y1="308.59" x2="433.20" y2="308.59" stroke="#8a8a8a" stroke-width="0.45"/>
<line x1="432.10" y1="305.72" x2="433.20" y2="305.72" stroke="#8a8a8a" stroke-width="0.45"/>
<line x1="432.10" y1="303.69" x2="433.20" y2="303.69" stroke="#8a8a8a" stroke-width="0.45"/>
<line x1="432.10" y1="302.11" x2="433.20" y2="302.11" stroke="#8a8a8a" stroke-width="0.45"/>
<line x1="432.10" y1="300.82" x2="433.20" y2="300.82" stroke="#8a8a8a" stroke-width="0.45"/>
<line x1="432.10" y1="299.72" x2="433.20" y2="299.72" stroke="#8a8a8a" stroke-width="0.45"/>
<line x1="432.10" y1="298.78" x2="433.20" y2="298.78" stroke="#8a8a8a" stroke-width="0.45"/>
<line x1="432.10" y1="297.95" x2="433.20" y2="297.95" stroke="#8a8a8a" stroke-width="0.45"/>
<line x1="432.10" y1="357.51" x2="433.20" y2="357.51" stroke="#8a8a8a" stroke-width="0.45"/>
<line x1="432.10" y1="353.44" x2="433.20" y2="353.44" stroke="#8a8a8a" stroke-width="0.45"/>
<line x1="432.10" y1="350.17" x2="433.20" y2="350.17" stroke="#8a8a8a" stroke-width="0.45"/>
<text x="429.00" y="364.10" font-size="4.8" text-anchor="end" fill="#555" font-weight="normal" >0</text>
<text x="428.40" y="347.90" font-size="4.8" text-anchor="end" fill="#555" font-weight="normal" >10<tspan font-size="3.0" dy="-1.7">1</tspan></text>
<text x="428.40" y="331.60" font-size="4.8" text-anchor="end" fill="#555" font-weight="normal" >10<tspan font-size="3.0" dy="-1.7">2</tspan></text>
<text x="428.40" y="315.30" font-size="4.8" text-anchor="end" fill="#555" font-weight="normal" >10<tspan font-size="3.0" dy="-1.7">3</tspan></text>
<text x="428.40" y="299.00" font-size="4.8" text-anchor="end" fill="#555" font-weight="normal" >10<tspan font-size="3.0" dy="-1.7">4</tspan></text>
<line x1="444.70" y1="374.50" x2="444.70" y2="376.50" stroke="#555" stroke-width="0.9"/>
<line x1="461.00" y1="374.50" x2="461.00" y2="376.50" stroke="#555" stroke-width="0.9"/>
<line x1="477.30" y1="374.50" x2="477.30" y2="376.50" stroke="#555" stroke-width="0.9"/>
<line x1="493.60" y1="374.50" x2="493.60" y2="376.50" stroke="#555" stroke-width="0.9"/>
<line x1="509.90" y1="374.50" x2="509.90" y2="376.50" stroke="#555" stroke-width="0.9"/>
<line x1="465.91" y1="374.50" x2="465.91" y2="375.60" stroke="#8a8a8a" stroke-width="0.45"/>
<line x1="468.78" y1="374.50" x2="468.78" y2="375.60" stroke="#8a8a8a" stroke-width="0.45"/>
<line x1="470.81" y1="374.50" x2="470.81" y2="375.60" stroke="#8a8a8a" stroke-width="0.45"/>
<line x1="472.39" y1="374.50" x2="472.39" y2="375.60" stroke="#8a8a8a" stroke-width="0.45"/>
<line x1="473.68" y1="374.50" x2="473.68" y2="375.60" stroke="#8a8a8a" stroke-width="0.45"/>
<line x1="474.78" y1="374.50" x2="474.78" y2="375.60" stroke="#8a8a8a" stroke-width="0.45"/>
<line x1="475.72" y1="374.50" x2="475.72" y2="375.60" stroke="#8a8a8a" stroke-width="0.45"/>
<line x1="476.55" y1="374.50" x2="476.55" y2="375.60" stroke="#8a8a8a" stroke-width="0.45"/>
<line x1="482.21" y1="374.50" x2="482.21" y2="375.60" stroke="#8a8a8a" stroke-width="0.45"/>
<line x1="485.08" y1="374.50" x2="485.08" y2="375.60" stroke="#8a8a8a" stroke-width="0.45"/>
<line x1="487.11" y1="374.50" x2="487.11" y2="375.60" stroke="#8a8a8a" stroke-width="0.45"/>
<line x1="488.69" y1="374.50" x2="488.69" y2="375.60" stroke="#8a8a8a" stroke-width="0.45"/>
<line x1="489.98" y1="374.50" x2="489.98" y2="375.60" stroke="#8a8a8a" stroke-width="0.45"/>
<line x1="491.08" y1="374.50" x2="491.08" y2="375.60" stroke="#8a8a8a" stroke-width="0.45"/>
<line x1="492.02" y1="374.50" x2="492.02" y2="375.60" stroke="#8a8a8a" stroke-width="0.45"/>
<line x1="492.85" y1="374.50" x2="492.85" y2="375.60" stroke="#8a8a8a" stroke-width="0.45"/>
<line x1="498.51" y1="374.50" x2="498.51" y2="375.60" stroke="#8a8a8a" stroke-width="0.45"/>
<line x1="501.38" y1="374.50" x2="501.38" y2="375.60" stroke="#8a8a8a" stroke-width="0.45"/>
<line x1="503.41" y1="374.50" x2="503.41" y2="375.60" stroke="#8a8a8a" stroke-width="0.45"/>
<line x1="504.99" y1="374.50" x2="504.99" y2="375.60" stroke="#8a8a8a" stroke-width="0.45"/>
<line x1="506.28" y1="374.50" x2="506.28" y2="375.60" stroke="#8a8a8a" stroke-width="0.45"/>
<line x1="507.38" y1="374.50" x2="507.38" y2="375.60" stroke="#8a8a8a" stroke-width="0.45"/>
<line x1="508.32" y1="374.50" x2="508.32" y2="375.60" stroke="#8a8a8a" stroke-width="0.45"/>
<line x1="509.15" y1="374.50" x2="509.15" y2="375.60" stroke="#8a8a8a" stroke-width="0.45"/>
<line x1="449.59" y1="374.50" x2="449.59" y2="375.60" stroke="#8a8a8a" stroke-width="0.45"/>
<line x1="453.66" y1="374.50" x2="453.66" y2="375.60" stroke="#8a8a8a" stroke-width="0.45"/>
<line x1="456.93" y1="374.50" x2="456.93" y2="375.60" stroke="#8a8a8a" stroke-width="0.45"/>
<text x="444.70" y="383.50" font-size="4.8" text-anchor="middle" fill="#555" font-weight="normal" >0</text>
<text x="461.60" y="383.50" font-size="4.8" text-anchor="middle" fill="#555" font-weight="normal" >10<tspan font-size="3.0" dy="-1.7">1</tspan></text>
<text x="477.90" y="383.50" font-size="4.8" text-anchor="middle" fill="#555" font-weight="normal" >10<tspan font-size="3.0" dy="-1.7">2</tspan></text>
<text x="494.20" y="383.50" font-size="4.8" text-anchor="middle" fill="#555" font-weight="normal" >10<tspan font-size="3.0" dy="-1.7">3</tspan></text>
<text x="510.50" y="383.50" font-size="4.8" text-anchor="middle" fill="#555" font-weight="normal" >10<tspan font-size="3.0" dy="-1.7">4</tspan></text>
<text x="459.50" y="314.40" font-size="3.3" text-anchor="middle" fill="#3a3a3a" font-weight="normal" >CD34+CD38-</text>
<text x="459.50" y="318.90" font-size="3.3" text-anchor="middle" fill="#3a3a3a" font-weight="normal" >0.26</text>
<text x="490.50" y="314.40" font-size="3.3" text-anchor="middle" fill="#3a3a3a" font-weight="normal" >CD34+CD38+</text>
<text x="490.50" y="318.90" font-size="3.3" text-anchor="middle" fill="#3a3a3a" font-weight="normal" >9.52</text>
<text x="476.65" y="346.25" font-size="3.3" text-anchor="middle" fill="#3a3a3a" font-weight="normal" >CD34- bulk</text>
<text x="476.65" y="350.75" font-size="3.3" text-anchor="middle" fill="#3a3a3a" font-weight="normal" >92.9</text>
<line x1="11.40" y1="203.00" x2="11.40" y2="244.80" stroke="#111" stroke-width="0.9"/>
<polygon points="11.4,199.8 9.0,205.2 13.8,205.2" fill="#111"/>
<text transform="translate(14.3,257.8) rotate(-90)" font-size="10" text-anchor="middle" fill="#1a1a1a" stroke="#1a1a1a" stroke-width="0.25" textLength="14" lengthAdjust="spacingAndGlyphs">CD34</text>
<text x="36.30" y="286.60" font-size="10" text-anchor="middle" fill="#1a1a1a" font-weight="normal" stroke="#1a1a1a" stroke-width="0.25" textLength="14.6" lengthAdjust="spacingAndGlyphs">CD38</text>
<line x1="47.70" y1="282.30" x2="89.00" y2="282.30" stroke="#111" stroke-width="0.9"/>
<polygon points="92.6,282.3 87.0,280.0 87.0,284.6" fill="#111"/>
<text x="6.10" y="409.40" font-size="11.8" text-anchor="start" fill="#111" font-weight="bold" >C</text>
<line x1="50.00" y1="418.50" x2="50.00" y2="523.00" stroke="#222" stroke-width="1.1"/>
<line x1="49.50" y1="522.50" x2="120.00" y2="522.50" stroke="#222" stroke-width="1.1"/>
<line x1="47.00" y1="522.50" x2="50.00" y2="522.50" stroke="#222" stroke-width="1"/>
<text x="43.80" y="525.20" font-size="7.7" text-anchor="end" fill="#333" font-weight="normal" >0</text>
<line x1="47.00" y1="471.00" x2="50.00" y2="471.00" stroke="#222" stroke-width="1"/>
<text x="43.80" y="473.70" font-size="7.7" text-anchor="end" fill="#333" font-weight="normal" >50</text>
<line x1="47.00" y1="419.50" x2="50.00" y2="419.50" stroke="#222" stroke-width="1"/>
<text x="43.80" y="422.20" font-size="7.7" text-anchor="end" fill="#333" font-weight="normal" >100</text>
<line x1="48.50" y1="517.35" x2="50.00" y2="517.35" stroke="#444" stroke-width="0.6"/>
<line x1="48.50" y1="512.20" x2="50.00" y2="512.20" stroke="#444" stroke-width="0.6"/>
<line x1="48.50" y1="507.05" x2="50.00" y2="507.05" stroke="#444" stroke-width="0.6"/>
<line x1="48.50" y1="501.90" x2="50.00" y2="501.90" stroke="#444" stroke-width="0.6"/>
<line x1="48.50" y1="496.75" x2="50.00" y2="496.75" stroke="#444" stroke-width="0.6"/>
<line x1="48.50" y1="491.60" x2="50.00" y2="491.60" stroke="#444" stroke-width="0.6"/>
<line x1="48.50" y1="486.45" x2="50.00" y2="486.45" stroke="#444" stroke-width="0.6"/>
<line x1="48.50" y1="481.30" x2="50.00" y2="481.30" stroke="#444" stroke-width="0.6"/>
<line x1="48.50" y1="476.15" x2="50.00" y2="476.15" stroke="#444" stroke-width="0.6"/>
<line x1="48.50" y1="465.85" x2="50.00" y2="465.85" stroke="#444" stroke-width="0.6"/>
<line x1="48.50" y1="460.70" x2="50.00" y2="460.70" stroke="#444" stroke-width="0.6"/>
<line x1="48.50" y1="455.55" x2="50.00" y2="455.55" stroke="#444" stroke-width="0.6"/>
<line x1="48.50" y1="450.40" x2="50.00" y2="450.40" stroke="#444" stroke-width="0.6"/>
<line x1="48.50" y1="445.25" x2="50.00" y2="445.25" stroke="#444" stroke-width="0.6"/>
<line x1="48.50" y1="440.10" x2="50.00" y2="440.10" stroke="#444" stroke-width="0.6"/>
<line x1="48.50" y1="434.95" x2="50.00" y2="434.95" stroke="#444" stroke-width="0.6"/>
<line x1="48.50" y1="429.80" x2="50.00" y2="429.80" stroke="#444" stroke-width="0.6"/>
<line x1="48.50" y1="424.65" x2="50.00" y2="424.65" stroke="#444" stroke-width="0.6"/>
<line x1="84.40" y1="522.50" x2="84.40" y2="525.00" stroke="#222" stroke-width="1"/>
<text x="84.80" y="535.60" font-size="8.0" text-anchor="middle" fill="#333" font-weight="normal" >CD34<tspan font-size="5" dy="-2.2">&#8211;</tspan><tspan dy="2.2"> cells</tspan></text>
<text transform="translate(26.2,469.6) rotate(-90)" font-size="9.4" text-anchor="middle" fill="#333" stroke="#333" stroke-width="0.2" textLength="63" lengthAdjust="spacingAndGlyphs">Percent total cells (%)</text>
<line x1="70.20" y1="425.80" x2="99.40" y2="420.90" stroke="#1c3f72" stroke-width="0.8"/>
<circle cx="70.20" cy="425.80" r="2.4" fill="#1c3f72"/>
<polygon points="99.40,418.30 96.90,422.70 101.90,422.70" fill="#1c3f72"/>
<line x1="65.20" y1="503.10" x2="74.40" y2="503.10" stroke="#1c3f72" stroke-width="1"/>
<circle cx="70.10" cy="503.10" r="2.3" fill="#1c3f72"/>
<text x="77.00" y="505.60" font-size="7.9" text-anchor="start" fill="#333" font-weight="normal" >JMML Only</text>
<line x1="65.20" y1="513.60" x2="74.40" y2="513.60" stroke="#1c3f72" stroke-width="1"/>
<polygon points="70.10,511.20 67.70,515.40 72.50,515.40" fill="#1c3f72"/>
<text x="77.00" y="516.30" font-size="7.9" text-anchor="start" fill="#333" font-weight="normal" >NK + JMML</text>
<line x1="164.30" y1="417.50" x2="164.30" y2="523.20" stroke="#222" stroke-width="1.1"/>
<line x1="163.80" y1="522.70" x2="267.30" y2="522.70" stroke="#222" stroke-width="1.1"/>
<line x1="161.30" y1="522.70" x2="164.30" y2="522.70" stroke="#222" stroke-width="1"/>
<text x="158.60" y="525.40" font-size="7.7" text-anchor="end" fill="#333" font-weight="normal" >0</text>
<line x1="161.30" y1="501.92" x2="164.30" y2="501.92" stroke="#222" stroke-width="1"/>
<text x="158.60" y="504.62" font-size="7.7" text-anchor="end" fill="#333" font-weight="normal" >1</text>
<line x1="161.30" y1="481.14" x2="164.30" y2="481.14" stroke="#222" stroke-width="1"/>
<text x="158.60" y="483.84" font-size="7.7" text-anchor="end" fill="#333" font-weight="normal" >2</text>
<line x1="161.30" y1="460.36" x2="164.30" y2="460.36" stroke="#222" stroke-width="1"/>
<text x="158.60" y="463.06" font-size="7.7" text-anchor="end" fill="#333" font-weight="normal" >3</text>
<line x1="161.30" y1="439.58" x2="164.30" y2="439.58" stroke="#222" stroke-width="1"/>
<text x="158.60" y="442.28" font-size="7.7" text-anchor="end" fill="#333" font-weight="normal" >4</text>
<line x1="161.30" y1="418.80" x2="164.30" y2="418.80" stroke="#222" stroke-width="1"/>
<text x="158.60" y="421.50" font-size="7.7" text-anchor="end" fill="#333" font-weight="normal" >5</text>
<line x1="188.10" y1="522.70" x2="188.10" y2="525.20" stroke="#222" stroke-width="1"/>
<line x1="243.50" y1="522.70" x2="243.50" y2="525.20" stroke="#222" stroke-width="1"/>
<text transform="translate(149.6,470.0) rotate(-90)" font-size="9.4" text-anchor="middle" fill="#333" stroke="#333" stroke-width="0.2" textLength="63" lengthAdjust="spacingAndGlyphs">Percent total cells (%)</text>
<polyline points="178.2,421.6 178.2,416.1 198.9,416.1 198.9,497.3" fill="none" stroke="#444" stroke-width="0.9"/>
<polyline points="233.5,473 233.5,416.1 253.9,416.1 253.9,510" fill="none" stroke="#444" stroke-width="0.9"/>
<text x="188.70" y="416.00" font-size="7.5" text-anchor="middle" fill="#111" font-weight="normal" >*</text>
<text x="243.60" y="416.00" font-size="7.5" text-anchor="middle" fill="#111" font-weight="normal" >*</text>
<line x1="178.20" y1="428.50" x2="198.90" y2="520.40" stroke="#25538e" stroke-width="1.25"/>
<line x1="178.20" y1="446.50" x2="198.90" y2="504.70" stroke="#25538e" stroke-width="1.25"/>
<line x1="178.20" y1="428.50" x2="198.90" y2="512.30" stroke="#25538e" stroke-width="1.25"/>
<line x1="233.50" y1="480.00" x2="253.90" y2="515.80" stroke="#25538e" stroke-width="1.25"/>
<line x1="233.50" y1="480.00" x2="253.90" y2="519.20" stroke="#25538e" stroke-width="1.25"/>
<line x1="233.50" y1="480.00" x2="253.90" y2="521.00" stroke="#25538e" stroke-width="1.25"/>
<circle cx="178.20" cy="428.50" r="2.4" fill="#1c3f72"/>
<circle cx="178.20" cy="446.50" r="2.4" fill="#1c3f72"/>
<circle cx="233.50" cy="480.00" r="2.4" fill="#1c3f72"/>
<polygon points="198.90,502.30 196.50,506.50 201.30,506.50" fill="#1c3f72"/>
<polygon points="198.90,509.90 196.50,514.10 201.30,514.10" fill="#1c3f72"/>
<polygon points="198.90,518.00 196.50,522.20 201.30,522.20" fill="#1c3f72"/>
<polygon points="253.90,513.40 251.50,517.60 256.30,517.60" fill="#1c3f72"/>
<polygon points="253.90,516.80 251.50,521.00 256.30,521.00" fill="#1c3f72"/>
<polygon points="253.90,518.60 251.50,522.80 256.30,522.80" fill="#1c3f72"/>
<text transform="translate(190.2,531.0) rotate(-45)" font-size="8.0" text-anchor="end" fill="#333">CD34+CD38+ progenitor</text>
<text transform="translate(245.6,532.4) rotate(-45)" font-size="8.0" text-anchor="end" fill="#333">CD34+CD38&#8722; stem</text>
<rect x="0.5" y="0.5" width="519" height="600" fill="none" stroke="#585858" stroke-width="1.1"/>
</svg>
</body></html>
